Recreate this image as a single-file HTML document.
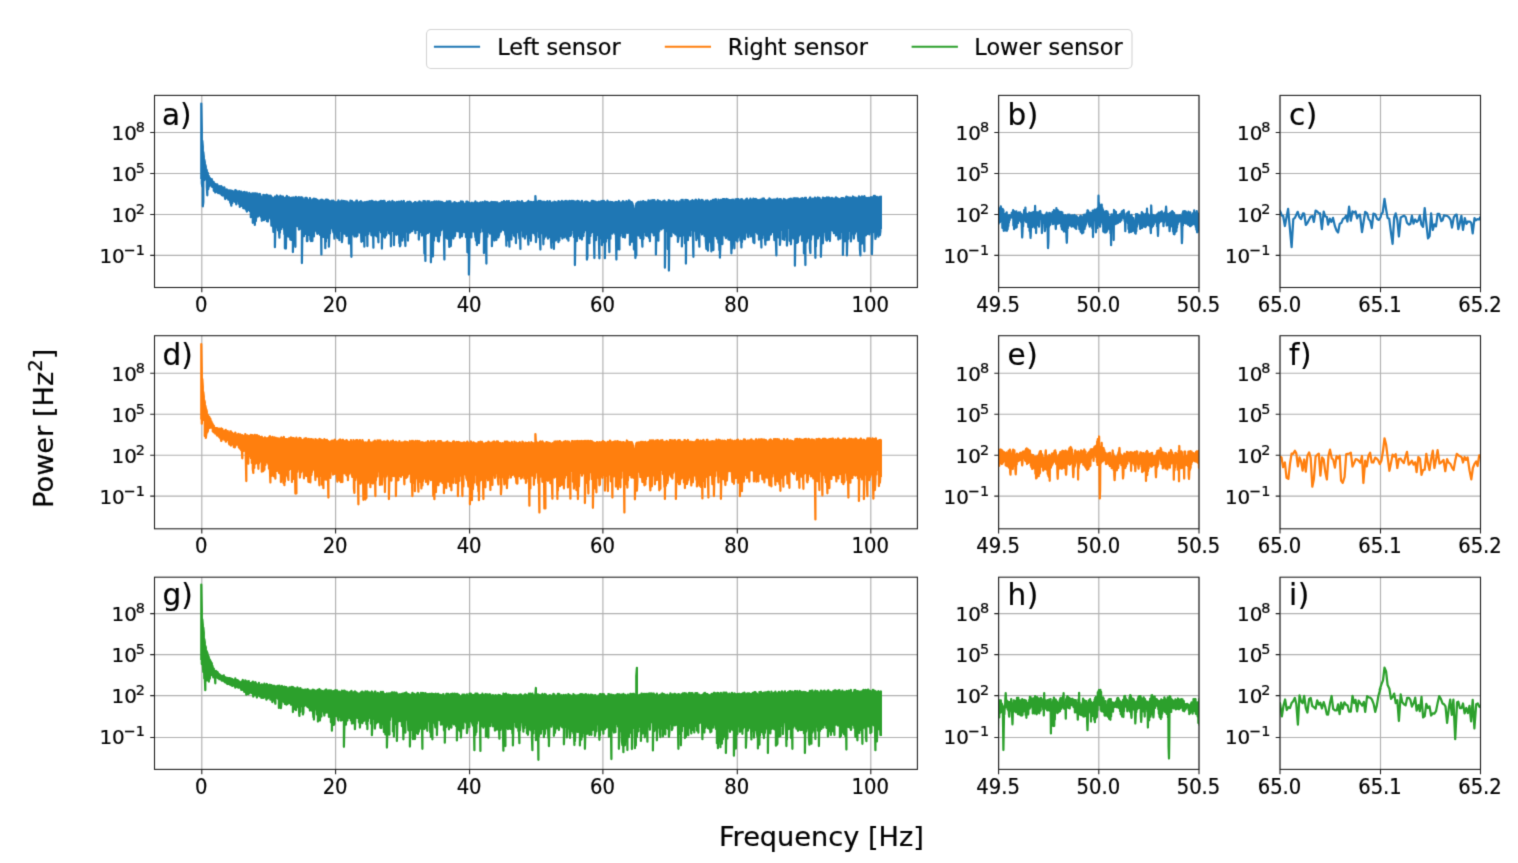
<!DOCTYPE html>
<html lang="en"><head><meta charset="utf-8"><title>Power spectra</title>
<style>html,body{margin:0;padding:0;background:#fff}svg{display:block}text{font-family:"DejaVu Sans", "Liberation Sans", sans-serif;fill:#000;stroke:#000;stroke-width:0.2px}</style></head><body>
<svg width="1518" height="863" viewBox="0 0 1518 863">
<defs><filter id="soft" x="0" y="0" width="100%" height="100%" filterUnits="userSpaceOnUse" color-interpolation-filters="sRGB"><feConvolveMatrix order="3" kernelMatrix="0.0192 0.1001 0.0192 0.1001 0.5228 0.1001 0.0192 0.1001 0.0192" edgeMode="duplicate" preserveAlpha="true"/></filter></defs>
<g filter="url(#soft)">
<rect x="-5" y="-5" width="1528" height="873" fill="#fff"/>
<g id="legend">
<rect x="426.5" y="29.5" width="705.5" height="39" rx="4.5" ry="4.5" fill="#fff" stroke="#d4d4d4" stroke-width="1.1"/>
<path d="M433.9,46.7H480.1" stroke="#1f77b4" stroke-width="1.9"/>
<text x="497.2" y="55" font-size="22.4">Left sensor</text>
<path d="M664.8,46.7H711.0" stroke="#ff7f0e" stroke-width="1.9"/>
<text x="727.7" y="55" font-size="22.4">Right sensor</text>
<path d="M911.6,46.7H957.9" stroke="#2ca02c" stroke-width="1.9"/>
<text x="974.3" y="55" font-size="22.4">Lower sensor</text>
</g>
<text transform="translate(821.4,845.7) scale(1,0.955)" text-anchor="middle" font-size="27.2">Frequency [Hz]</text>
<text transform="translate(53.1,428.3) rotate(-90) scale(1,0.99)" text-anchor="middle" font-size="27.2">Power [Hz<tspan font-size="19.6" dy="-11.4">2</tspan><tspan dy="11.4">]</tspan></text>
<g id="panel-a">
<clipPath id="c00"><rect x="154.5" y="95.4" width="762.9" height="192.1"/></clipPath>
<path d="M201.8,95.4V287.5M335.6,95.4V287.5M469.6,95.4V287.5M602.9,95.4V287.5M737.3,95.4V287.5M870.8,95.4V287.5M154.5,132.5H917.4M154.5,173.5H917.4M154.5,214.5H917.4M154.5,255.4H917.4" stroke="#b0b0b0" stroke-width="1.15" fill="none"/>
<g clip-path="url(#c00)" fill="none" stroke="#1f77b4" stroke-width="2.25" stroke-linejoin="round" stroke-linecap="butt">
<path d="M201.3,178.9V103.5L201.8,129.2V183L202.3,186.7V140.8L202.8,146.5V206.3L203.3,202.2V152.2L203.8,156.6V176.5L204.3,180.2V159.7L204.8,162.2V178.6L205.3,178.8V164.8L205.8,166.8V178.3L206.3,177.7V169.2L206.8,170.4V186.8L207.3,195.3V173.4L207.8,172.8V187.3L208.3,189.1V177.1L208.8,176.1V182.2L209.3,186.5V177.6L209.8,178V183.6L210.3,184.2V179.9L210.8,180.4V184.9L211.3,185.3V179.3L211.8,179.2V186L212.3,187V182.3L212.8,181.9V186.2L213.3,187.3V181.7L213.8,182.2V190.8L214.3,189.1V185.6L214.8,186.3V190.2L215.3,192.4V186.1L215.8,184V189.6L216.3,190.3V186.8L216.8,186.2V191.8L217.3,191V184.4L217.8,186.4V192.6L218.3,193V186.2L218.8,187.4V191.6L219.3,191.6V186.6L219.8,186.2V193.4L220.3,192.4V189.2L220.8,187V193L221.3,194.4V186.1L221.8,187.4V195.2L222.3,194.5V188.9L222.8,187.6V195.5L223.3,195.3V189.8L223.8,189.1V193.8L224.3,195.3V187.3L224.8,189.8V197L225.3,199V189.9L225.8,190.5V198.4L226.3,197.1V191.3L226.8,189.4V197.7L227.3,196.7V190.8L227.8,190.8V196.3L228.3,199.7V190.4L228.8,191.8V197.1L229.3,196.7V190.4L229.8,191.7V196.9L230.3,202.7V190.7L230.8,190.4V202.4L231.3,205.7V192.2L231.8,191.5V200.4L232.3,203.1V190.8L232.8,191.8V200.9L233.3,200.8V193L233.8,191.7V198.4L234.3,200.7V191.4L234.8,192V201.8L235.3,201.1V190.2L235.8,192V200.8L236.3,204.3V190.6L236.8,193.4V200.9L237.3,200.7V193.5L237.8,191.6V201L238.3,200.9V193L238.8,193.7V203.7L239.3,203.7V191L239.8,193.4V206.9L240.3,205.7V192.3L240.8,192.5V201.2L241.3,205.8V191.7L241.8,193V202.4L242.3,202.7V192.7L242.8,193.9V202.6L243.3,208.2V194.2L243.8,192.1V203.4L244.3,205.1V194L244.8,192V208.3L245.3,207.4V193.5L245.8,193.7V209.5L246.3,207.2V195.1L246.8,192.3V211.6L247.3,210.2V194.4L247.8,194.1V210.1L248.3,206.5V194.6L248.8,195.1V207.6L249.3,205.8V192.8L249.8,194.4V211L250.3,208.2V196.5L250.8,194.4V217.2L251.3,209.7V195.2L251.8,194.8V207.3L252.3,205.5V193.3L252.8,195.3V222.8L253.3,213.6V193.3L253.8,194.7V214.4L254.3,219.7V196.7L254.8,193.3V224.9L255.3,212.4V194.7L255.8,193.4V221.2L256.4,215.4V196.2L256.9,196.3V212L257.4,215.8V193.6L257.8,194.9V216.5L258.4,213.2V196.8L258.9,194.8V215.5L259.3,212.4V194.9L259.9,193.9V214.6L260.4,213.4V195.2L260.9,196.9V216.5L261.4,217.5V197.5L261.8,197.5V220.8L262.4,210.3V197.5L262.9,196.8V212.3L263.3,210.5V194.8L263.9,196.1V220.2L264.4,210.8V196.2L264.9,195.1V210.9L265.4,218.9V197.4L265.9,197V219.2L266.4,215.9V196.3L266.9,194.7V221.2L267.4,217.3V196.5L267.9,198.3V221.5L268.4,211.4V195.7L268.9,197.5V217.4L269.4,211.4V195.8L269.9,197.1V216.4L270.4,218.6V195.5L270.9,196.2V212L271.4,225.7V196.8L271.9,198V217.9L272.4,217.8V198.3L272.9,198.1V221.1L273.4,231.9V198.5L273.9,198.2V221L274.4,221.7V197.9L274.9,196.6V247.2L275.4,226.1V197.1L275.9,198.9V223.9L276.4,227.3V198.5L276.9,195.5V220.2L277.4,213.2V197.2L277.9,198.2V230.3L278.4,218.9V198.1L278.9,196.7V229.3L279.4,237.7V198.3L279.9,197.3V232.9L280.4,216.8V195.7L280.9,196.3V218.2L281.4,229V198.3L281.9,197.7V217.1L282.4,219.8V197.3L282.9,196.5V226.8L283.4,226.5V198.6L283.9,199.3V224.1L284.4,234.3V198.9L284.9,197.8V248.3L285.4,231.4V197.5L285.9,197.6V248.5L286.4,224.6V198.3L286.9,196V226.7L287.4,231.1V197.7L287.9,198.2V223.6L288.4,236.6V197.8L288.9,197.2V233.3L289.4,232.2V197.6L289.9,198.7V234.8L290.4,239.7V199.4L290.9,198.5V222.3L291.4,239.8V197.9L291.9,199V225.6L292.4,238V197.6L292.9,199.6V252L293.4,227.6V199.1L293.9,197.5V221.6L294.4,222.7V199.4L294.9,198.3V231.5L295.4,246.8V198.6L295.9,196.9V223.9L296.4,223.9V199.4L296.9,200.1V222.7L297.4,226.1V198.2L297.9,198.1V223.9L298.4,222.1V197.3L298.9,197.2V229.6L299.4,228V200.7L299.9,199.8V228.8L300.4,225.9V198.9L300.9,197.4V226.1L301.4,228.7V197.4L301.9,199.2V263L302.4,229V197.6L302.9,199.1V223.9L303.4,233.3V199.8L303.9,199.6V236.2L304.4,220V199.3L304.9,199.5V225.4L305.4,233.9V197.8L305.9,197.9V227.9L306.4,220.8V200.1L306.9,198V241.2L307.4,241V200.7L307.9,200.9V227.5L308.4,235V200.9L308.9,200V225.2L309.3,228.3V201.6L309.9,198.2V226.8L310.4,239.6V199L310.9,201.8V241.1L311.4,227.6V201.1L311.9,200.7V231.1L312.4,241V201.3L312.9,199.3V231.9L313.4,226.9V200.8L313.9,198.6V236.4L314.3,223V200.3L314.9,199.1V221.4L315.4,221V199.4L315.8,198.9V226.1L316.4,231.4V200.8L316.9,200.6V226L317.3,233.8V199.8L317.9,201.4V233.3L318.4,228.2V200.9L318.9,200.6V228.4L319.4,223.6V202.5L319.9,200.7V234.8L320.4,225.8V201.2L320.9,200V222L321.4,254.4V201.6L321.9,199.6V230.4L322.3,227.6V201L322.9,202V224.5L323.4,237V200.3L323.8,201V224.3L324.4,232.5V202.6L324.9,201.6V223.6L325.3,248.2V200.9L325.9,199.6V241.7L326.4,220.4V203.7L326.9,199.7V228.5L327.4,231.7V201.9L327.9,199.8V237.7L328.4,228V201.4L328.9,200.6V246.7L329.4,233.8V201.6L329.9,201.4V233.6L330.4,228.7V202.4L330.9,201.6V228.1L331.4,224.8V201.1L331.9,200.6V222.9L332.4,228V201.2L332.9,201.4V229.3L333.4,232.3V200.7L333.9,202.5V221.6L334.4,238.6V201.7L334.9,202.3V223.9L335.4,234.1V202.5L335.9,202.4V229.8L336.4,227.8V202.5L336.9,202.7V235.9L337.4,238.1V201.9L337.9,202.4V230.5L338.4,226V200.3L338.9,201.7V227.6L339.4,240.2V203L339.9,202.4V223.8L340.4,230.9V202.7L340.9,201.3V222.5L341.4,229.7V200.8L341.9,200.6V242.2L342.4,236.9V201.8L342.9,202.9V224.8L343.4,227.4V202.9L343.9,201V223.9L344.4,233.7V202.2L344.9,201.3V230.1L345.4,228.2V202.1L345.9,201.6V229.1L346.4,236V202.3L346.9,201.5V231.8L347.4,235.6V202.2L347.9,202.4V225L348.4,220.3V202.7L348.9,203.6V243.6L349.4,227.3V202.7L349.9,203.5V233.7L350.4,228.6V200.5L350.9,203.2V235.3L351.4,256.8V201.3L351.9,200.9V232.9L352.4,234.5V201.9L352.9,202.2V223.5L353.4,222.6V203.3L353.9,202.5V228.8L354.4,236.5V202.8L354.9,203.1V222.7L355.4,226.7V202.2L355.9,202.9V226.7L356.4,236.6V200.6L356.9,200.7V225.3L357.4,235.8V203.1L357.9,203.5V228.5L358.4,227.3V203.2L358.9,202.5V226.8L359.4,232.5V201.8L359.9,203.2V226.5L360.4,223.8V203.1L360.9,201.2V229.2L361.4,241.8V202.7L361.9,202.2V239.7L362.4,240.9V203.2L362.9,203.6V237.9L363.4,239.8V202.5L363.9,202.6V226.2L364.4,246.6V203.4L364.9,202.2V235.8L365.4,224.3V202.4L365.9,202.1V221.3L366.4,228.9V203.5L366.9,201.8V221.1L367.4,246.1V203.3L367.9,202.5V222.4L368.4,234.1V201.6L368.9,204.1V225.9L369.4,225.7V203L369.9,201.2V224.7L370.4,231.3V201.3L370.9,202.5V223L371.4,235.3V201.2L371.9,200.7V222.9L372.4,228.7V201.5L372.9,201.3V220.4L373.4,247.7V203.7L373.9,202.2V227.1L374.4,229.6V202L374.9,202.3V230.7L375.4,235.3V201.6L375.9,204.1V233.8L376.4,235.6V201.8L376.9,202V236.4L377.4,225.9V203.3L377.9,203.3V230.6L378.4,242.3V202.3L378.9,203.1V226.2L379.4,230.1V201.7L379.9,202.8V226.9L380.4,230.3V201.8L380.9,200.8V232.3L381.4,220.3V203.2L381.9,203.6V248.5L382.4,222.9V201L382.9,202.6V223L383.4,232.5V200.8L383.9,202.4V236.5L384.4,228.7V200.8L384.9,202.6V237.7L385.4,225.8V202.7L385.9,203.7V235.4L386.4,234.5V203.1L386.9,204.2V223.4L387.4,223.8V203.6L387.9,202V230L388.4,224.7V204.2L388.9,203.1V233.2L389.4,218.3V201.4L389.9,202.2V231.7L390.4,234.5V202.2L390.9,203.6V246.3L391.4,220V202.9L391.9,202.6V231.2L392.4,226.9V200.9L392.9,203.6V228.4L393.4,227.1V203.4L393.9,203.4V245.1L394.4,223.3V202L394.9,202.9V223.1L395.4,229.8V204.1L395.9,202.8V221.8L396.4,234.8V203.6L396.9,201.9V229L397.4,232.4V203.4L397.9,204.3V228.6L398.4,234.3V202.6L398.9,201.6V225.5L399.4,243.3V203.2L399.9,202.1V246.3L400.4,245.3V202.9L400.9,202.8V238.7L401.4,232.4V201L401.9,201.9V222.1L402.4,240.6V204.3L402.9,202.3V228.3L403.4,230.1V203L403.9,201V233.2L404.4,237V203.6L404.9,203.5V236.4L405.4,246V204.1L405.9,203.1V227.3L406.4,228.2V204L406.9,202.6V231.5L407.4,227.2V201.9L407.9,202.4V240.6L408.4,222.7V202.1L408.9,203.3V225L409.4,228.1V201.7L409.9,203.1V232.7L410.4,232V201.8L410.9,202.6V230.9L411.4,222.9V203.9L411.9,204.1V224.6L412.4,231V204.5L412.9,204.2V229.7L413.4,224.4V203.1L413.9,204V222.4L414.4,228.4V204.5L414.9,202.2V226.7L415.4,233.2V203.3L415.8,202.2V223.4L416.4,225.2V203.1L416.9,203.1V229.8L417.3,224.6V203.1L417.9,203.1V224.9L418.4,225.7V202L418.8,203.3V239.6L419.4,230V201.3L419.9,204.4V223.8L420.4,226.3V202.2L420.9,204V231.9L421.4,221V202.7L421.9,204.7V235.5L422.4,233.6V203L422.9,205V222.2L423.4,225.7V201.2L423.9,201.3V223.8L424.4,253.6V202.1L424.9,201.3V232.7L425.4,260.9V204L425.9,204V234.4L426.4,226.9V203.9L426.9,202.8V227.1L427.3,231.2V201.4L427.9,201.2V233L428.4,229.3V202.5L428.8,202.4V230.1L429.4,229.8V201.4L429.9,203.4V228.8L430.3,232.4V203.7L430.9,203.9V262.3L431.4,235.5V204.1L431.8,202.1V228.2L432.4,221.9V204L432.9,203.7V256.4L433.3,227.1V202L433.9,203.6V240.7L434.4,229.9V201.3L434.8,203.7V228.6L435.4,235.7V203.1L435.9,203.6V223.5L436.4,228.7V201.4L436.9,203.5V236L437.4,226.4V203.3L437.9,203.1V240.9L438.4,229.7V201.3L438.9,204.6V241.5L439.4,229.3V202.5L439.9,201.6V235.5L440.4,228.3V204.7L440.9,203.1V227.2L441.4,230.2V203.6L441.8,201.9V228.1L442.4,225.6V203.1L442.9,202.7V225.7L443.3,228.7V203.3L443.9,202.9V231.4L444.4,259.5V203.7L444.8,204.9V224.4L445.4,227.4V203L445.9,203.7V237.5L446.3,229.5V203.2L446.9,201.4V223.6L447.4,238.7V203.4L447.8,203.9V225L448.4,225.5V203.6L448.9,201.4V230.6L449.3,246.9V201.4L449.9,202V238.9L450.4,223.2V201.4L450.8,203.9V246L451.4,232.8V204.4L451.9,203.9V228.7L452.4,237.1V203.7L452.9,204.1V220.8L453.4,238.5V203L453.9,203.5V230L454.4,228.7V202.2L454.9,204.1V236.1L455.4,231.1V202.7L455.9,203.9V230.7L456.4,226.4V203.1L456.9,203.7V228.5L457.4,231.1V204.6L457.9,204V228L458.4,231.4V202.9L458.9,203.3V230.2L459.4,228.1V203.3L459.9,204.1V237.6L460.4,226.1V203.1L460.9,201.4V229L461.4,220.8V202.2L461.9,203.1V236.3L462.4,231.2V201.5L462.9,201.7V223.9L463.4,229V203.1L463.9,204.8V227.1L464.4,232.1V204.4L464.9,204.6V227.7L465.4,222.5V203.5L465.9,203.7V237L466.4,225.7V201.5L466.9,204.2V221.5L467.4,252.3V201.5L467.9,202.5V236.5L468.4,240.3V202.3L468.9,203V274.6L469.4,242.4V202.9L469.9,203.4V218L470.4,232.5V205L470.9,203.7V223.7L471.4,237.4V203.4L471.9,202.7V231.6L472.4,225.1V203.4L472.9,203.5V229.2L473.4,231.3V204.3L473.9,205V230.5L474.4,229.5V202.5L474.9,203.8V231.7L475.4,237.3V201.4L475.9,204V240.6L476.4,238.9V203.7L476.9,203.2V245.1L477.4,229.8V202.5L477.9,203.4V225.1L478.4,233.3V204.3L478.9,203.7V243.1L479.4,232.1V203.3L479.9,202.8V229.2L480.4,232.1V202.4L480.9,204.2V225.9L481.4,222.9V204.7L481.9,203.2V224.8L482.4,227.7V202.2L482.9,204.9V231.4L483.4,228V202.7L483.9,202.7V253.1L484.4,220.9V203.3L484.9,201.4V238.2L485.4,224V202.8L485.9,205V226L486.4,263.6V203.2L486.9,201.8V235.4L487.4,236.8V202L487.9,202.8V232.2L488.4,225.3V202.7L488.9,203V231.8L489.4,223.2V203.7L489.9,203V233.6L490.4,229.1V202.7L490.9,203.5V221.2L491.4,228.8V201.8L491.9,203.9V246.2L492.4,231.6V202.4L492.9,203.6V234L493.4,230.5V202.2L493.9,203.3V235.2L494.4,240.5V202.1L494.9,203.5V228.5L495.4,228.3V203.8L495.9,202.2V225.1L496.4,240V203.5L496.9,202.4V226.4L497.4,225.9V202.3L497.9,203.8V228.9L498.4,237.4V203.8L498.9,203.8V235.8L499.4,232.5V204L499.9,203.3V230.5L500.4,231.6V204.5L500.9,204.1V231.7L501.4,225.7V202.5L501.9,202V225.1L502.4,226.2V204.2L502.9,203.7V225L503.4,230.1V203.7L503.9,201.1V222.4L504.4,229.6V202.4L504.9,202.8V229.6L505.4,234.6V203.5L505.9,201.8V228.5L506.4,245.7V203.1L506.9,201.1V240.1L507.4,240.3V202.4L507.9,203V228.9L508.4,238.5V203.9L508.9,201.1V234.2L509.4,246.7V203.8L509.9,203.7V236.7L510.4,222.5V203.1L510.9,203.2V231.2L511.4,239.5V203.8L511.9,202.2V231L512.4,223.4V203.7L512.9,202.5V225.4L513.4,233.3V202.1L513.9,203.6V235.5L514.4,227.3V202.6L514.9,202.1V236.6L515.4,236.3V202.5L515.9,202.6V243.1L516.4,225.5V203.4L516.9,202.2V232.3L517.4,230.5V201L517.9,203V227.8L518.4,226.8V201.9L518.9,204.1V232.4L519.4,238.4V201.6L519.9,203.6V226.3L520.4,248.9V203.1L520.9,203.3V223.4L521.4,230.3V204L521.9,201.1V225.4L522.4,229.9V203.1L522.9,202.7V236.5L523.4,235.4V202.8L523.9,203.7V231.1L524.4,222.8V203.5L524.9,203.9V238.5L525.4,231.4V202.8L525.9,203.4V234.4L526.4,227.4V203.1L526.9,203.8V226.8L527.4,232.9V201.8L527.9,203.8V237.9L528.4,244.6V200.9L528.9,203.6V238.1L529.4,236.1V202.5L529.9,204.1V230.1L530.4,225.5V201.8L530.9,203.5V240.8L531.4,223.1V202.6L531.9,202V228.9L532.4,227.9V203.6L532.9,202.6V221.8L533.4,233.2V203.4L533.9,201.9V231.2L534.4,229V202L534.9,203.5V231.6L535.4,235.5V196L535.9,204.2V242.1L536.4,235.9V201.3L536.9,202.5V227.6L537.4,229.6V202.9L537.9,201.9V227L538.4,231.5V202L538.9,200.8V237.2L539.4,229.8V203.2L539.9,204.5V235.4L540.4,249.5V200.8L540.9,201.3V224.9L541.4,233.1V202L541.9,202.6V233L542.4,228V202.1L542.9,201.8V223.6L543.4,244.3V203L543.9,201.8V239.1L544.4,235V201.9L544.9,202.4V236.8L545.4,231.9V202.9L545.9,202.1V226.6L546.4,226V204.6L546.9,201.8V230.3L547.4,237V201L547.9,203.3V238.6L548.4,228V203.7L548.9,203.4V237.1L549.4,231.1V203.2L549.9,201.2V227.9L550.4,237.3V202.6L550.9,203.2V239L551.4,247.8V203.6L551.9,203.2V240.1L552.4,226.1V202.4L552.9,203.1V242.1L553.4,237.5V202.8L553.9,202.8V248.9L554.4,229V201.5L554.9,202.9V237.2L555.4,233.3V203.1L555.9,202.2V240.4L556.4,233.9V203.4L556.9,202.8V233.1L557.4,232.2V203.1L557.9,202.3V233.1L558.4,242.2V201.2L558.9,202.8V227.5L559.4,240.5V201.7L559.9,202.8V233.1L560.4,236.2V202.2L560.9,203.6V235.5L561.4,229.1V202.8L561.9,200.9V231.5L562.4,238.5V202.4L562.9,201.8V232.3L563.4,234.7V202.7L563.9,202.7V228.6L564.4,237.4V201.4L564.9,203.9V226.2L565.4,231.4V202.5L565.9,200.8V231.8L566.4,236.6V202.6L566.9,203.4V238.6L567.4,232.2V201.4L567.9,203.3V221.9L568.4,240.7V202.1L568.9,202.6V235.9L569.4,227V200.8L569.9,202.3V229.2L570.4,236V201.5L570.9,204.4V235.2L571.4,233.1V200.8L571.9,203.8V230.2L572.4,228.4V203.1L572.9,200.8V226L573.4,229V204.4L573.9,201.6V237.1L574.4,224.3V201.3L574.9,202.8V265L575.4,235.4V203.3L575.9,201.7V235.4L576.4,225.5V202.7L576.9,203.6V241L577.4,229.7V200.8L577.9,201V236L578.4,226.5V202.7L578.9,201.3V234.2L579.4,228.1V202.9L579.9,202.1V238.4L580.4,232.1V202.9L580.9,202.7V227L581.4,233.6V203.5L581.9,200.8V239.5L582.4,229.5V203.2L582.9,203.7V227.8L583.4,236V203.6L583.9,204.3V232.6L584.4,225V202L584.9,202.5V225.7L585.4,228.6V201.7L585.9,202.7V230.3L586.4,226.7V201.7L586.9,202.1V259.5L587.4,257.1V201.8L587.9,202.9V233.5L588.4,230.8V202.3L588.9,203.5V228.1L589.4,243.2V203.1L589.9,203.5V233.5L590.4,236V202.9L590.9,203.3V233.1L591.4,231.8V202.9L591.9,200.8V229.3L592.4,231.8V203.1L592.9,200.8V229.9L593.4,230.5V202.3L593.9,203V233L594.4,258V201.3L594.9,202.3V238.3L595.4,235.1V203.3L595.9,201.7V240.1L596.4,230.2V202.8L596.9,203V230L597.4,231.8V203.1L597.9,202.1V235.1L598.4,229.4V203.2L598.9,201.6V238.5L599.4,258.3V203.2L599.9,202.6V228.1L600.4,232.7V202.7L600.9,201.4V228.7L601.4,238.7V201.1L601.9,203.5V245.1L602.4,233.9V202.4L602.9,201V228.7L603.4,242.2V202.8L603.9,200.8V238.3L604.4,232.5V203.2L604.9,202.4V258.2L605.4,227.9V202.1L605.9,203.3V241.8L606.4,229.8V204.3L606.9,202.8V233.7L607.4,229.1V200.7L607.9,203V238.1L608.4,231.3V201.7L608.9,203.4V239.1L609.4,252.1V203L609.9,203.5V232L610.4,238.7V201.9L610.9,202V229.6L611.4,231.2V202L611.9,203.2V227.5L612.4,233.6V202L612.9,203.2V221.2L613.4,231.5V202.7L613.9,202.9V232.1L614.4,227.9V202.9L614.9,203.8V230.6L615.4,234.2V202.2L615.9,201.9V232L616.4,259.5V202.2L616.9,202.1V233.6L617.4,249.4V203.3L617.9,203.4V232.4L618.4,236.1V202.5L618.9,201V231.3L619.4,249.5V203.3L619.9,202.6V230.9L620.4,235.7V202.7L620.9,202.5V230.6L621.4,228.1V203.3L621.9,202.9V232.8L622.4,229.2V203L622.9,201.2V237L623.4,219.1V201.4L623.9,202.6V236.9L624.4,223.9V202.1L624.9,203.3V237.6L625.4,231.8V202.4L625.9,202.9V226.7L626.4,228.4V201.1L626.9,201.9V228.6L627.4,232.8V202L627.9,203.4V227.8L628.4,224.5V202.5L628.9,200.5V232.8L629.4,231.3V200.5L629.9,202V244.8L630.3,233.7V203.3L630.9,202V232.3L631.4,225.1V202.2L631.9,202.4V241.8L632.4,228.2V203.3L632.9,205.4V231.1L633.3,230.1V208.1L633.9,210.2V249.4L634.4,240.1V210.4L634.9,210.2V235.9L635.4,258V208.1L635.8,205.4V229.1L636.3,255.4V203.6L636.9,203.1V231L637.4,231.1V202.5L637.9,203.3V230L638.4,235.5V201.9L638.8,203.6V234.1L639.4,230.6V202.8L639.9,203.5V226.9L640.4,238.1V201.7L640.9,201.8V234.9L641.4,228V202.6L641.8,203V234.6L642.4,246.7V201.5L642.9,202.6V239.7L643.4,238.4V201.2L643.9,202.3V231.9L644.4,229.7V202.2L644.8,203.7V225.5L645.4,224.9V201.8L645.9,202.6V235.4L646.4,227.8V202.9L646.9,202.4V235.9L647.4,234.1V202.5L647.8,202.3V235.7L648.4,233.2V200.3L648.9,202.5V237.7L649.4,235.1V201.3L649.9,202V241.2L650.4,223V200.6L650.8,202.5V231.7L651.4,224.4V202.8L651.9,200.4V227.9L652.4,232.5V203.5L652.9,200.2V227.8L653.3,229.8V202L653.8,202.4V235.4L654.4,231.4V200.2L654.9,203.4V228.5L655.4,235.4V202.1L655.9,203.5V254.4L656.3,236.3V201.9L656.9,202.9V227.1L657.4,224.2V201.7L657.9,200.2V229.8L658.4,240.7V200.6L658.9,202.2V227.7L659.3,231.3V201.4L659.9,201.2V227.8L660.4,225.9V202.1L660.9,202V223.6L661.4,229.4V202.9L661.9,202.4V226L662.3,228V203L662.9,201.3V228.2L663.4,225.9V202.1L663.9,202.2V224.4L664.4,225V200.5L664.9,201.9V267.7L665.3,243.4V202.2L665.9,202.6V226.5L666.4,231.2V203.2L666.9,202.2V231.1L667.4,226.6V203.5L667.8,202.5V249L668.3,225.5V202L668.9,200.1V270.5L669.4,228.8V203L669.9,201.5V230.4L670.4,229.6V202L670.8,201V234L671.4,236.1V202.8L671.9,203.1V231.6L672.4,225.3V202.2L672.9,200.9V230.7L673.4,229.2V202.7L673.8,201V232.8L674.4,222.5V202.4L674.9,202.6V228L675.4,234.4V203.4L675.9,202.1V229.4L676.4,231.1V202.1L676.8,201.4V225.4L677.4,236.1V203L677.9,202.7V241.9L678.4,238.4V203.4L678.9,202.8V233.7L679.4,226V201.4L679.8,202V236.2L680.4,229.8V202.2L680.9,201.6V229.8L681.4,233.4V199.9L681.9,200.5V246.4L682.3,228V201.1L682.8,199.9V235.6L683.4,233.5V203.1L683.9,202.9V233.9L684.4,229.2V201.8L684.9,202.1V243.3L685.3,231V199.8L685.9,201.7V263.6L686.4,221.8V201.6L686.9,200V230.2L687.4,233.8V201.8L687.9,200.2V240.1L688.3,228.7V202.2L688.9,202.2V224.9L689.4,235.1V202L689.9,201.5V227.6L690.4,235.8V202.3L690.9,201.1V223.2L691.3,228.6V202.5L691.9,202.6V229.8L692.4,224.2V200.1L692.9,202.2V236.3L693.4,256.8V201.8L693.9,201.3V229L694.3,227.5V201.4L694.9,202.7V230.6L695.4,226.4V200L695.9,199.6V228.7L696.4,240.1V200.4L696.9,202V230L697.3,236V201.4L697.9,201.8V224.6L698.4,238.2V201.3L698.9,199.5V235.9L699.4,246.7V201.9L699.8,200.9V232.7L700.3,230.9V201.8L700.9,200.5V230.6L701.4,224.9V201.8L701.9,199.8V234.5L702.4,232.7V200.6L702.8,200.5V226.1L703.4,230.6V201.4L703.9,202.1V229.4L704.4,236V202.7L704.9,201.8V232L705.4,229.9V202.7L705.8,200.7V240.7L706.4,248.9V200.8L706.9,201.5V241.6L707.4,232.1V200.4L707.9,201.2V250.7L708.4,229.8V202.6L708.8,202.2V242.5L709.4,236.7V202L709.9,201.6V233L710.4,241.5V202.5L710.9,200.9V236.2L711.4,251.4V201.2L711.8,200.9V221.6L712.4,230V201.4L712.9,199.9V233.9L713.4,250.1V201.3L713.9,202.8V233.7L714.4,232.6V199.7L714.9,200.7V224.2L715.4,236V200L715.9,199.2V230L716.4,229.2V202.4L716.9,201.8V238.6L717.4,231.7V202.3L717.9,201.3V227.3L718.4,242.6V199.7L718.9,202.2V230.1L719.4,250.2V201.1L719.9,202V257.6L720.4,245.4V200.2L720.9,199.8V232.1L721.4,224.3V202.4L721.9,201.1V233.4L722.4,244.1V201.7L722.9,199.1V225.9L723.4,231.5V199.1L723.9,200.7V235.1L724.4,223V199.1L724.9,201.4V223.9L725.4,236.5V199.3L725.9,201.1V238.1L726.4,230.4V201.6L726.9,199V226.3L727.4,234.7V200.4L727.9,202.1V230.4L728.4,239.5V199.5L728.9,200.3V238.3L729.4,227.7V200.6L729.9,200.2V239.9L730.4,236.3V201.5L730.9,200.6V228.8L731.4,253.3V199.8L731.9,202.1V249L732.4,235.8V201.8L732.9,199.6V234.7L733.4,234.2V200.5L733.9,200.7V226.9L734.4,248.3V201.4L734.9,201.3V234.3L735.4,229.6V199.4L735.9,201V240.2L736.4,225.9V202L736.9,199.1V229.5L737.4,241.5V201.5L737.9,199.6V237.9L738.4,227.9V199.2L738.9,200.8V233.4L739.4,232V200.5L739.9,200.7V225.3L740.4,240.5V200.4L740.9,199.4V222.9L741.4,247.4V201.2L741.9,199.2V242.4L742.4,237.5V200.5L742.9,201.7V226.9L743.4,232.5V201.4L743.9,200.4V229.4L744.4,239V201.3L744.9,201.6V239.3L745.4,231.4V201.5L745.9,199.4V228L746.4,232.4V200.4L746.9,198.7V225.7L747.4,229.3V201L747.9,200.4V236.8L748.4,237.1V200.3L748.9,200.3V234L749.4,227.8V201.8L749.9,199.8V224L750.4,225.9V198.7L750.9,200.5V236.4L751.4,233.3V201.3L751.9,199.8V230L752.4,231V202.3L752.9,201V233.7L753.4,242.3V198.7L753.9,200.3V228.5L754.4,243.1V199.2L754.9,200.2V225.8L755.4,225.8V199.4L755.9,199V228.5L756.4,232V200.9L756.9,201.5V228.7L757.4,233.6V199.8L757.9,200.6V227.1L758.4,227.3V201.4L758.9,200.2V239.7L759.4,235.1V201.8L759.9,201.2V234.6L760.4,234.2V199.5L760.9,202.1V230.7L761.4,247.5V200.9L761.9,201.9V229.3L762.4,238.1V198.5L762.9,200.2V233.2L763.4,232.6V200.9L763.9,198.5V234.5L764.4,233.8V200.4L764.9,200.5V238.8L765.4,244.7V200.1L765.9,200.9V231L766.4,230.3V200.8L766.9,200.7V240.1L767.4,237.2V201L767.9,200.1V235.8L768.4,226.5V199.7L768.9,201.5V239.8L769.4,230.9V198.4L769.9,199.5V230.7L770.4,234.6V199.3L770.9,199.5V234.4L771.4,223.2V201.4L771.9,200.3V230.9L772.4,229.4V200.4L772.9,199.8V231.9L773.4,229.5V200.4L773.9,199.6V230.1L774.4,240.2V199.7L774.9,199.6V234.8L775.4,232.4V199.9L775.9,201.1V240.9L776.4,255.4V199.4L776.9,199.3V237.3L777.4,226.2V198.5L777.9,200.8V234.6L778.4,237.4V201L778.9,200.4V233.3L779.4,228.9V200.6L779.9,199.1V244.9L780.4,238.8V199.8L780.9,199.3V228.8L781.4,227.8V200.3L781.9,201.2V229.9L782.4,225.5V201.1L782.9,200.4V239.2L783.4,228.6V200.9L783.9,199V224.6L784.4,239.9V199.8L784.9,199.5V236.9L785.4,231V200.1L785.9,201.2V234.6L786.4,228.8V200.7L786.9,200.2V245.6L787.4,239.5V200.8L787.9,201.5V228.4L788.4,222.6V199.3L788.9,199.3V224.2L789.4,225V200.4L789.9,198.8V240.9L790.4,240.1V200.2L790.9,198.6V244.3L791.4,231.1V199.6L791.9,199.8V225.4L792.4,231.3V200.7L792.9,199.9V227.3L793.4,238.5V198.3L793.9,200.4V225.8L794.4,238.6V198.5L794.9,198.2V265.7L795.4,233.1V200.4L795.9,199.4V230.9L796.4,222.6V198.3L796.9,201.1V242.9L797.4,236.1V198.4L797.9,200.7V242.1L798.4,233.7V198.6L798.9,199.4V235.8L799.4,231.6V200.3L799.9,200.8V234.5L800.4,224.3V199.5L800.9,198.6V227.2L801.4,225.9V198.7L801.9,199.5V240.8L802.4,230.6V198L802.9,199.6V237.7L803.4,225.7V200.6L803.9,200V253.3L804.4,242.1V200.2L804.9,197.9V233.9L805.4,265V200.1L805.9,197.9V236.1L806.4,242.6V199.7L806.9,200.6V241.4L807.4,235.1V200.9L807.9,200V223.5L808.4,237.9V200.7L808.9,199.3V227.9L809.4,236.5V199.9L809.9,197.7V248.2L810.4,253V197.7L810.9,200.5V239.8L811.4,232.4V199.9L811.9,199.7V227.8L812.4,228.2V199.4L812.9,198.6V234.4L813.4,232.1V199.6L813.9,199.7V226.8L814.4,226.3V200.1L814.9,197.7V235.1L815.4,257.8V201L815.9,198.4V246.8L816.4,228.1V200.2L816.9,198.9V236.2L817.4,232.1V199.8L817.9,197.5V238.4L818.4,226.2V200.4L818.9,200.2V231.7L819.4,231.3V197.8L819.9,199.1V235.8L820.4,231.6V199.8L820.9,201.4V256.8L821.4,236.1V200L821.9,200.2V234.5L822.4,235.9V200L822.9,197.6V243.3L823.4,231.4V197.8L823.9,198.6V227.2L824.4,223.8V199.3L824.9,198.1V231.8L825.4,230.3V199.2L825.9,199.5V235.7L826.4,240V199.7L826.9,197.3V240.7L827.4,228.2V199.4L827.9,199.1V228.1L828.4,238.8V199.7L828.9,197.5V233.3L829.4,230.3V199.4L829.9,199.6V241L830.4,227.3V198.4L830.9,199.8V229.9L831.4,230V200L831.9,197.8V228.6L832.4,221.4V198.2L832.9,198.7V230.8L833.4,225.8V199.6L833.9,198.6V233.2L834.4,229.4V198.5L834.9,199.3V224.3L835.4,229.2V200.1L835.9,197.4V235.5L836.4,229.9V199L836.9,198V234.4L837.4,235V199.5L837.9,198.6V230L838.4,239.5V199L838.9,199.1V232L839.4,223.7V199.8L839.9,199.4V233.8L840.4,238.5V199.9L840.9,199.2V232.3L841.4,226.3V198L841.9,198.4V226.2L842.4,226.5V198.2L842.9,200.4V254.9L843.4,236.3V198.2L843.9,198.7V217.3L844.4,241.3V199.3L844.9,199.5V231.9L845.4,227.2V199.4L845.9,197.4V241.2L846.4,229.2V196.7L846.9,196.8V255.4L847.4,238.3V198.9L847.9,197.6V225.5L848.4,238.8V198.4L848.9,197.4V229.6L849.4,228V198.6L849.9,198.3V230.8L850.4,229.8V197.5L850.9,199.5V241.4L851.4,235.3V198.4L851.9,198.8V230.4L852.4,233.6V198.1L852.9,196.5V229.2L853.4,226.1V198.7L853.9,198.7V238.5L854.4,224.9V197.4L854.9,198V233.8L855.4,223.8V198.6L855.9,197.8V229.9L856.4,227.2V198.6L856.9,199.2V231.5L857.4,231.3V198.4L857.9,198.7V234.9L858.4,240.9V199L858.9,196.4V233.8L859.4,237.7V197.7L859.9,198V248.9L860.4,255.4V197.4L860.9,198.1V238.8L861.4,225.6V197.6L861.9,196.3V243.6L862.4,238.7V196.8L862.9,199V228.6L863.4,224.5V198.7L863.9,199.3V236.7L864.4,251.3V196.2L864.9,198.7V223.1L865.4,228.9V197.6L865.9,199.2V235.3L866.4,232.2V198.8L866.9,198V230.2L867.4,234V199.1L867.9,198.3V225.6L868.4,228.3V197.9L868.9,198.4V223.4L869.4,234.4V197.8L869.9,197.9V224L870.4,232.1V198.2L870.9,197.3V229.6L871.4,228.1V197.4L871.9,197.3V254.1L872.4,233.6V197.7L872.9,198.2V232.6L873.4,226.7V197.5L873.9,195.9V228.4L874.4,223.9V197.5L874.9,195.9V222.1L875.4,238.9V197.9L875.9,197V237.3L876.4,228.4V199.1L876.9,196.9V227.9L877.4,230.2V197.6L877.9,199.5V225.5L878.4,236.7V198.2L878.9,197.5V234.7L879.4,231.9V196.8L879.9,198.9V235.2L880.4,231.1V197.5L880.9,196.6V228.9"/>
</g>
<path d="M201.8,287.5v4.8M335.6,287.5v4.8M469.6,287.5v4.8M602.9,287.5v4.8M737.3,287.5v4.8M870.8,287.5v4.8M154.5,132.5h-4.3M154.5,173.5h-4.3M154.5,214.5h-4.3M154.5,255.4h-4.3" stroke="#1c1c1c" stroke-width="1.07" fill="none"/>
<rect x="154.5" y="95.4" width="762.9" height="192.1" fill="none" stroke="#1c1c1c" stroke-width="1.07"/>
<text transform="translate(201.35,311.94) scale(1,1.08)" text-anchor="middle" font-size="19.6">0</text>
<text transform="translate(335.1,311.94) scale(1,1.08)" text-anchor="middle" font-size="19.6">20</text>
<text transform="translate(469.1,311.94) scale(1,1.08)" text-anchor="middle" font-size="19.6">40</text>
<text transform="translate(602.4,311.94) scale(1,1.08)" text-anchor="middle" font-size="19.6">60</text>
<text transform="translate(736.8,311.94) scale(1,1.08)" text-anchor="middle" font-size="19.6">80</text>
<text transform="translate(870.3,311.94) scale(1,1.08)" text-anchor="middle" font-size="19.6">100</text>
<text transform="translate(145,139.86) scale(1,0.995)" text-anchor="end" font-size="19.9">10<tspan font-size="14.4" dx="-1" dy="-7.8">8</tspan></text>
<text transform="translate(145,180.84) scale(1,0.995)" text-anchor="end" font-size="19.9">10<tspan font-size="14.4" dx="-1" dy="-7.8">5</tspan></text>
<text transform="translate(145,221.82) scale(1,0.995)" text-anchor="end" font-size="19.9">10<tspan font-size="14.4" dx="-1" dy="-7.8">2</tspan></text>
<text transform="translate(145,262.8) scale(1,0.995)" text-anchor="end" font-size="19.9">10<tspan font-size="14.4" dx="-1" dy="-7.8">−1</tspan></text>
<text transform="translate(162,124.95)" font-size="29.5">a)</text>
</g>
<g id="panel-b">
<clipPath id="c01"><rect x="998.6" y="95.4" width="200.4" height="192.1"/></clipPath>
<path d="M998.6,95.4V287.5M1098.8,95.4V287.5M1199,95.4V287.5M998.6,132.5H1199M998.6,173.5H1199M998.6,214.5H1199M998.6,255.4H1199" stroke="#b0b0b0" stroke-width="1.15" fill="none"/>
<g clip-path="url(#c01)" fill="none" stroke="#1f77b4" stroke-width="2.25" stroke-linejoin="round" stroke-linecap="butt">
<path d="M997.6,208.8 997.9,222.7 998.2,209 998.6,223.6 998.9,212.4 999.2,222.4 999.5,212.4 999.9,222.2 1000.2,207.8 1000.5,220.7 1000.8,206.3 1001.2,218.8 1001.5,208.4 1001.8,218.7 1002.1,213.9 1002.4,227.9 1002.8,209.1 1003.1,222.8 1003.4,210.2 1003.7,230.8 1004.1,213.9 1004.4,226.5 1004.7,214.7 1005,230.3 1005.4,217.1 1005.7,230.3 1006,213.3 1006.3,230.7 1006.7,212.4 1007,230.7 1007.3,218.9 1007.6,229.2 1007.9,216 1008.3,226.4 1008.6,215.3 1008.9,222.6 1009.2,215.2 1009.6,220.1 1009.9,215.4 1010.2,217.9 1010.5,215.8 1010.9,217.4 1011.2,214.8 1011.5,217.5 1011.8,212.6 1012.1,216.5 1012.5,212.4 1012.8,217.4 1013.1,210.2 1013.4,225.6 1013.8,214.7 1014.1,229.2 1014.4,211.3 1014.7,224.3 1015.1,215.5 1015.4,227.2 1015.7,216 1016,227.6 1016.4,211.4 1016.7,227.3 1017,213.3 1017.3,223.4 1017.6,213.2 1018,223.2 1018.3,215.4 1018.6,221 1018.9,212.5 1019.3,220.6 1019.6,213.2 1019.9,219.5 1020.2,212.3 1020.6,218.7 1020.9,214 1021.2,222.4 1021.5,214.1 1021.8,226.6 1022.2,237.5 1022.5,231.2 1022.8,215.8 1023.1,226.4 1023.5,217.6 1023.8,220 1024.1,210.2 1024.4,217.4 1024.8,213.6 1025.1,218.2 1025.4,207.6 1025.7,221.6 1026.1,213.3 1026.4,222.2 1026.7,214.9 1027,221.5 1027.3,214.3 1027.7,221.6 1028,213.9 1028.3,226.9 1028.6,213.6 1029,227.2 1029.3,212.5 1029.6,231 1029.9,217.9 1030.3,232.6 1030.6,237.9 1030.9,229.2 1031.2,213 1031.5,227 1031.9,212.8 1032.2,227.2 1032.5,212.5 1032.8,226.3 1033.2,212.2 1033.5,226.2 1033.8,212 1034.1,223.2 1034.5,214.1 1034.8,227.6 1035.1,205.9 1035.4,221 1035.8,211.9 1036.1,233.1 1036.4,213 1036.7,225.4 1037,216.2 1037.4,222.8 1037.7,212.3 1038,222 1038.3,213.6 1038.7,223 1039,226.6 1039.3,220.7 1039.6,211.3 1040,216.7 1040.3,211 1040.6,215.9 1040.9,214.1 1041.2,218.6 1041.6,214.3 1041.9,233.1 1042.2,215.4 1042.5,221.5 1042.9,215.3 1043.2,221.3 1043.5,216.7 1043.8,222.9 1044.2,215.6 1044.5,225.9 1044.8,231.1 1045.1,230 1045.5,214.6 1045.8,223.8 1046.1,216.5 1046.4,226.7 1046.7,212.6 1047.1,223.3 1047.4,217.9 1047.7,230.7 1048,248.1 1048.4,241.7 1048.7,214.5 1049,227 1049.3,212.8 1049.7,221.4 1050,213.1 1050.3,224.8 1050.6,213.7 1050.9,221.5 1051.3,216.4 1051.6,221.7 1051.9,214.2 1052.2,220.5 1052.6,212.1 1052.9,224.2 1053.2,214.2 1053.5,222.1 1053.9,210.2 1054.2,221.4 1054.5,210.5 1054.8,223.7 1055.2,211.5 1055.5,223.4 1055.8,229 1056.1,221.7 1056.4,208.2 1056.8,224.1 1057.1,212.7 1057.4,219.8 1057.7,210.2 1058.1,223.2 1058.4,211 1058.7,223.5 1059,215.7 1059.4,220.4 1059.7,212 1060,223 1060.3,213.1 1060.6,222 1061,211.9 1061.3,226.8 1061.6,216 1061.9,229.3 1062.3,212.4 1062.6,223.6 1062.9,215.5 1063.2,230.3 1063.6,215.2 1063.9,231.5 1064.2,215.4 1064.5,228.5 1064.9,219.7 1065.2,229.6 1065.5,215.2 1065.8,232.1 1066.1,219.7 1066.5,237.2 1066.8,242.8 1067.1,236.5 1067.4,215.6 1067.8,228.1 1068.1,214.6 1068.4,224.7 1068.7,216.7 1069.1,224.9 1069.4,214.6 1069.7,225.4 1070,217.2 1070.3,225.4 1070.7,218.7 1071,224.3 1071.3,215.6 1071.6,226.7 1072,219.8 1072.3,224.3 1072.6,215.4 1072.9,222 1073.3,216.1 1073.6,226.4 1073.9,216.2 1074.2,226.2 1074.6,215 1074.9,227.7 1075.2,217.6 1075.5,223.2 1075.8,216.9 1076.2,228.9 1076.5,216.1 1076.8,224.4 1077.1,217.1 1077.5,222.4 1077.8,217.9 1078.1,223.5 1078.4,219.3 1078.8,225.8 1079.1,219.1 1079.4,229.1 1079.7,217 1080,226.4 1080.4,215.8 1080.7,231.8 1081,216 1081.3,228.9 1081.7,217 1082,233.4 1082.3,217.4 1082.6,228.7 1083,218.7 1083.3,232.7 1083.6,214.9 1083.9,225.1 1084.3,214.9 1084.6,229 1084.9,214.6 1085.2,226.6 1085.5,219.2 1085.9,224.7 1086.2,214.8 1086.5,218.9 1086.8,213.1 1087.2,221.1 1087.5,210.3 1087.8,218.6 1088.1,210.5 1088.5,223 1088.8,212.4 1089.1,224.7 1089.4,215.5 1089.7,226.6 1090.1,212.6 1090.4,222.4 1090.7,214.4 1091,225.4 1091.4,216.4 1091.7,223.4 1092,212.9 1092.3,228.3 1092.7,210.7 1093,237.1 1093.3,210.9 1093.6,220.3 1094,210.7 1094.3,216.9 1094.6,209.7 1094.9,218 1095.2,210.7 1095.6,223.2 1095.9,232.3 1096.2,226.7 1096.5,209.3 1096.9,225 1097.2,211.6 1097.5,227.9 1097.8,208 1098.2,224.9 1098.5,195.7 1098.8,221.8 1099.1,203.2 1099.4,221.1 1099.8,211.8 1100.1,226.7 1100.4,205.5 1100.7,221.8 1101.1,206.1 1101.4,219.1 1101.7,204.6 1102,222.1 1102.4,208.2 1102.7,224.1 1103,209.9 1103.3,231.6 1103.6,219.5 1104,229.5 1104.3,216.4 1104.6,232.4 1104.9,211.6 1105.3,227.4 1105.6,215.5 1105.9,232.5 1106.2,211.2 1106.6,231.8 1106.9,218.6 1107.2,230.7 1107.5,211.7 1107.9,229 1108.2,213.6 1108.5,226.7 1108.8,218.1 1109.1,225.5 1109.5,217.5 1109.8,229.4 1110.1,216.8 1110.4,233.3 1110.8,222.7 1111.1,245.2 1111.4,214.4 1111.7,225.8 1112.1,214.6 1112.4,224.6 1112.7,214.7 1113,224.1 1113.3,218.8 1113.7,240 1114,210 1114.3,224.8 1114.6,210.9 1115,222.5 1115.3,211.6 1115.6,224 1115.9,211.8 1116.3,223.6 1116.6,216.7 1116.9,221.5 1117.2,216.4 1117.6,223.1 1117.9,215.2 1118.2,222.8 1118.5,217.1 1118.8,221 1119.2,217.8 1119.5,220.5 1119.8,214.1 1120.1,221.8 1120.5,213.8 1120.8,220.4 1121.1,215 1121.4,220.3 1121.8,211.6 1122.1,217.6 1122.4,211.1 1122.7,216.2 1123,211.8 1123.4,214.7 1123.7,210.1 1124,218.7 1124.3,213.4 1124.7,221.5 1125,218.5 1125.3,231.1 1125.6,217.9 1126,221.3 1126.3,216.3 1126.6,220.5 1126.9,213.4 1127.3,220.1 1127.6,215.4 1127.9,223.1 1128.2,212.2 1128.5,229 1128.9,211.7 1129.2,232.5 1129.5,215.4 1129.8,224.6 1130.2,216.3 1130.5,230.5 1130.8,219 1131.1,232 1131.5,214.8 1131.8,231.5 1132.1,217.2 1132.4,230.3 1132.7,219.3 1133.1,230.8 1133.4,218.2 1133.7,230.3 1134,221.7 1134.4,229.1 1134.7,221.1 1135,232.9 1135.3,220.5 1135.7,233.7 1136,214.2 1136.3,231.3 1136.6,214.4 1137,226.7 1137.3,214.2 1137.6,221.4 1137.9,215.5 1138.2,219.3 1138.6,215 1138.9,222.2 1139.2,215.6 1139.5,224.5 1139.9,217.8 1140.2,228.9 1140.5,219.4 1140.8,226.1 1141.2,215.2 1141.5,224.7 1141.8,212.1 1142.1,227.9 1142.4,215 1142.8,226.7 1143.1,213.7 1143.4,226.3 1143.7,218.8 1144.1,226.5 1144.4,219.3 1144.7,222.8 1145,214.5 1145.4,227.2 1145.7,213.8 1146,226.2 1146.3,214.2 1146.7,225.3 1147,208.7 1147.3,220.6 1147.6,214.6 1147.9,224.3 1148.3,214.4 1148.6,225.2 1148.9,216.5 1149.2,225.7 1149.6,216 1149.9,225.8 1150.2,215.8 1150.5,228.3 1150.9,233.1 1151.2,205.5 1151.5,213.4 1151.8,227.4 1152.1,214.5 1152.5,223.7 1152.8,215.4 1153.1,226 1153.4,215.1 1153.8,224.3 1154.1,215.3 1154.4,222 1154.7,216.9 1155.1,217.8 1155.4,215.6 1155.7,218.5 1156,215.6 1156.4,222.9 1156.7,216.7 1157,226.2 1157.3,214.1 1157.6,227.2 1158,235.9 1158.3,227.5 1158.6,212.7 1158.9,223.5 1159.3,213.3 1159.6,222 1159.9,213.6 1160.2,221.6 1160.6,212.1 1160.9,221.5 1161.2,212 1161.5,220.2 1161.8,211.3 1162.2,221.1 1162.5,215.5 1162.8,220.2 1163.1,214.1 1163.5,226.2 1163.8,213.4 1164.1,222.6 1164.4,213.1 1164.8,220.7 1165.1,212.4 1165.4,218.9 1165.7,212 1166.1,206.7 1166.4,211.8 1166.7,225.5 1167,213.6 1167.3,225.3 1167.7,215.9 1168,224.1 1168.3,217.5 1168.6,222.5 1169,213.8 1169.3,225.7 1169.6,231.1 1169.9,227.6 1170.3,212.8 1170.6,222.2 1170.9,216 1171.2,221.5 1171.5,212.1 1171.9,226.4 1172.2,211.2 1172.5,224.1 1172.8,211.8 1173.2,231.7 1173.5,214.7 1173.8,234.1 1174.1,213 1174.5,234.3 1174.8,214.9 1175.1,232.5 1175.4,217.6 1175.8,227.7 1176.1,217 1176.4,231.3 1176.7,215.4 1177,227.6 1177.4,217.3 1177.7,224.3 1178,215.4 1178.3,222.3 1178.7,216.3 1179,221.8 1179.3,215.6 1179.6,220.9 1180,215.1 1180.3,220.7 1180.6,215.9 1180.9,221.7 1181.2,218.3 1181.6,230.1 1181.9,243.2 1182.2,237.4 1182.5,213.4 1182.9,225.6 1183.2,211.3 1183.5,221 1183.8,214.2 1184.2,222.8 1184.5,211.2 1184.8,221.2 1185.1,214 1185.5,223.4 1185.8,211.5 1186.1,222.8 1186.4,213.6 1186.7,223.5 1187.1,213.4 1187.4,222.5 1187.7,213.3 1188,224.7 1188.4,211.7 1188.7,224.8 1189,214.2 1189.3,222.9 1189.7,214 1190,226.1 1190.3,212.4 1190.6,226.2 1190.9,218.3 1191.3,222 1191.6,217.5 1191.9,224.9 1192.2,214.9 1192.6,223.8 1192.9,213.3 1193.2,223.8 1193.5,214.3 1193.9,220 1194.2,210.4 1194.5,224.4 1194.8,212.5 1195.2,223.6 1195.5,215.4 1195.8,226.9 1196.1,213.9 1196.4,229.7 1196.8,211.2 1197.1,232.3 1197.4,217.8 1197.7,232.1 1198.1,214 1198.4,227.1 1198.7,213.6 1199,227.5 1199.4,217.5 1199.7,230.2 1200,216.7"/>
</g>
<path d="M998.6,287.5v4.8M1098.8,287.5v4.8M1199,287.5v4.8M998.6,132.5h-4.3M998.6,173.5h-4.3M998.6,214.5h-4.3M998.6,255.4h-4.3" stroke="#1c1c1c" stroke-width="1.07" fill="none"/>
<rect x="998.6" y="95.4" width="200.4" height="192.1" fill="none" stroke="#1c1c1c" stroke-width="1.07"/>
<text transform="translate(998.1,311.94) scale(1,1.08)" text-anchor="middle" font-size="19.6">49.5</text>
<text transform="translate(1098.3,311.94) scale(1,1.08)" text-anchor="middle" font-size="19.6">50.0</text>
<text transform="translate(1198.5,311.94) scale(1,1.08)" text-anchor="middle" font-size="19.6">50.5</text>
<text transform="translate(989.1,139.86) scale(1,0.995)" text-anchor="end" font-size="19.9">10<tspan font-size="14.4" dx="-1" dy="-7.8">8</tspan></text>
<text transform="translate(989.1,180.84) scale(1,0.995)" text-anchor="end" font-size="19.9">10<tspan font-size="14.4" dx="-1" dy="-7.8">5</tspan></text>
<text transform="translate(989.1,221.82) scale(1,0.995)" text-anchor="end" font-size="19.9">10<tspan font-size="14.4" dx="-1" dy="-7.8">2</tspan></text>
<text transform="translate(989.1,262.8) scale(1,0.995)" text-anchor="end" font-size="19.9">10<tspan font-size="14.4" dx="-1" dy="-7.8">−1</tspan></text>
<text transform="translate(1007.6,124.95)" font-size="29.5" letter-spacing="0.5">b)</text>
</g>
<g id="panel-c">
<clipPath id="c02"><rect x="1280" y="95.4" width="200.5" height="192.1"/></clipPath>
<path d="M1280,95.4V287.5M1380.5,95.4V287.5M1480.5,95.4V287.5M1280,132.5H1480.5M1280,173.5H1480.5M1280,214.5H1480.5M1280,255.4H1480.5" stroke="#b0b0b0" stroke-width="1.15" fill="none"/>
<g clip-path="url(#c02)" fill="none" stroke="#1f77b4" stroke-width="2.25" stroke-linejoin="round" stroke-linecap="butt">
<path d="M1278,210.8 1280,210.8 1281.9,215.7 1283.1,215.8 1284.9,226 1288.1,208.9 1291.6,247.1 1293.3,219.1 1294.9,217.9 1297.7,211.8 1299.3,217 1301,219.1 1303,213.4 1304.2,213.6 1305.8,224.9 1307.4,223.1 1310.7,216.6 1312.5,216.2 1313.9,221.9 1315.6,210.6 1317.2,211.4 1318.8,213.2 1320,213.4 1321.9,229.2 1323.7,211.6 1325.1,216.2 1326.9,217 1328.1,224.7 1329.8,218.7 1331.4,221.9 1333,217.9 1335,226.4 1336.7,230.8 1338.1,232.5 1339.7,223.9 1341.5,222.7 1343.1,218.7 1344.8,217.9 1346,215.8 1347.4,221.5 1349.1,206.7 1350.8,220.7 1352.5,211.4 1354.1,212.6 1355.6,211.4 1357.1,218.3 1358.6,215 1360,214.6 1362,232.1 1365.2,211.8 1367.1,213.4 1368.7,219.1 1370.3,221.1 1371.8,228 1373.4,213.6 1375.2,214.2 1377.2,219.1 1378.8,219.9 1380.5,217.4 1381.4,213.8 1382.7,212.6 1384.5,198.8 1386.1,209.3 1387.6,217.9 1389.2,218.7 1391,232.9 1392.6,243.8 1394.2,217.4 1395.7,213.4 1397.3,219.9 1398.9,236.5 1400.7,217.4 1402.3,216.6 1404,215.7 1405.6,217 1407,222.7 1408.8,224.6 1410.4,223.9 1411.9,215.7 1413.5,223.5 1415.2,219.5 1416.8,221.9 1418.4,220.3 1419.8,215.4 1421.4,224.6 1423,226.8 1424.7,208.1 1426.3,223.1 1428,238.5 1429.6,236.1 1431.1,213.4 1432.8,230 1434.4,224.3 1436,226.4 1437.6,213.8 1439.2,213.8 1441.3,221.1 1442.5,220.3 1444.1,215.2 1445.7,215.7 1447.4,216 1449,217.4 1450.6,219.9 1452,227.6 1453.8,217.4 1455.5,214.9 1456.7,214.6 1458.3,229.2 1459.9,222.7 1461.4,215.8 1463,229.8 1464.8,218.1 1466.4,223.8 1468,221.5 1470.1,221.7 1471.3,223.1 1472.7,233.3 1474.5,218.1 1475.8,220.3 1477.4,219.1 1479,219.5 1480.4,217 1482.5,217"/>
</g>
<path d="M1280,287.5v4.8M1380.5,287.5v4.8M1480.5,287.5v4.8M1280,132.5h-4.3M1280,173.5h-4.3M1280,214.5h-4.3M1280,255.4h-4.3" stroke="#1c1c1c" stroke-width="1.07" fill="none"/>
<rect x="1280" y="95.4" width="200.5" height="192.1" fill="none" stroke="#1c1c1c" stroke-width="1.07"/>
<text transform="translate(1279.5,311.94) scale(1,1.08)" text-anchor="middle" font-size="19.6">65.0</text>
<text transform="translate(1380,311.94) scale(1,1.08)" text-anchor="middle" font-size="19.6">65.1</text>
<text transform="translate(1480,311.94) scale(1,1.08)" text-anchor="middle" font-size="19.6">65.2</text>
<text transform="translate(1270.5,139.86) scale(1,0.995)" text-anchor="end" font-size="19.9">10<tspan font-size="14.4" dx="-1" dy="-7.8">8</tspan></text>
<text transform="translate(1270.5,180.84) scale(1,0.995)" text-anchor="end" font-size="19.9">10<tspan font-size="14.4" dx="-1" dy="-7.8">5</tspan></text>
<text transform="translate(1270.5,221.82) scale(1,0.995)" text-anchor="end" font-size="19.9">10<tspan font-size="14.4" dx="-1" dy="-7.8">2</tspan></text>
<text transform="translate(1270.5,262.8) scale(1,0.995)" text-anchor="end" font-size="19.9">10<tspan font-size="14.4" dx="-1" dy="-7.8">−1</tspan></text>
<text transform="translate(1289,124.95)" font-size="29.5" letter-spacing="0.5">c)</text>
</g>
<g id="panel-d">
<clipPath id="c10"><rect x="154.5" y="335.7" width="762.9" height="193.1"/></clipPath>
<path d="M201.8,335.7V528.8M335.6,335.7V528.8M469.6,335.7V528.8M602.9,335.7V528.8M737.3,335.7V528.8M870.8,335.7V528.8M154.5,373.2H917.4M154.5,414.2H917.4M154.5,455.2H917.4M154.5,496.1H917.4" stroke="#b0b0b0" stroke-width="1.15" fill="none"/>
<g clip-path="url(#c10)" fill="none" stroke="#ff7f0e" stroke-width="2.25" stroke-linejoin="round" stroke-linecap="butt">
<path d="M201.3,419.6V344.2L201.8,372V423.7L202.3,412V379.1L202.8,386.8V420.1L203.3,417.3V392.2L203.8,396.6V417.8L204.3,418.2V400.4L204.8,402.2V436L205.3,422.2V405.7L205.8,408.2V437.9L206.3,434V409.4L206.8,411.6V425.1L207.3,432.5V414.3L207.8,415V431.4L208.3,427.8V417.2L208.8,416.4V427L209.3,425.8V416.9L209.8,419.1V427.9L210.3,426.9V418.6L210.8,421.8V425.5L211.3,427.2V421.3L211.8,423.5V427L212.3,428.3V423.4L212.8,425.2V431.4L213.3,428.9V426L213.8,425.6V432.3L214.3,432.1V427.3L214.8,428.4V431.2L215.3,433.5V428.3L215.8,428.2V432L216.3,433.2V428.2L216.8,429.1V434.9L217.3,435.6V428.2L217.8,428.9V433L218.3,435V429L218.8,429.5V434.6L219.3,437V428.5L219.8,429.5V435.8L220.3,438V430.7L220.8,429.5V438.8L221.3,440.9V428.4L221.8,430.5V439.8L222.3,435.9V429.1L222.8,431.2V436.3L223.3,437V430.8L223.8,431.3V437.9L224.3,439.7V431.5L224.8,430.6V437.8L225.3,439.9V431.6L225.8,429.9V441.7L226.3,439.8V431.8L226.8,433.2V439.1L227.3,439.3V432.6L227.8,431.1V438.7L228.3,440.5V432.8L228.8,434.2V442.2L229.3,444.3V433.5L229.8,434.2V442.5L230.3,439.6V431.3L230.8,431.4V445.6L231.3,441.5V432.4L231.8,433.3V442.6L232.3,444.3V432.9L232.8,434.7V442.2L233.3,442.8V434.5L233.8,434.1V447L234.3,443.1V434.6L234.8,435.7V447.4L235.3,445.9V432.6L235.8,434.7V444.2L236.3,443.8V434.6L236.8,435.2V444.6L237.3,443.2V435.4L237.8,435.2V444.5L238.3,442.8V433.8L238.8,434.4V447.3L239.3,442.9V435.5L239.8,436.9V448.5L240.3,448.7V434.4L240.8,436V449L241.3,450.2V435.3L241.8,437.1V446.7L242.3,458.3V435.2L242.8,436V446.5L243.3,448.3V435.8L243.8,436V450.9L244.3,447.1V436.2L244.8,435.8V447.9L245.3,449.9V434.1L245.8,437V457.1L246.3,481.1V436.5L246.8,437.5V451.2L247.3,449.1V435.4L247.8,435.8V457.2L248.3,463.7V437L248.8,436.5V456.3L249.3,452V435.9L249.8,435.9V452L250.3,451.5V437.3L250.8,434.9V458L251.3,453.3V435.6L251.8,437.5V462.9L252.3,457.2V435.1L252.8,435.8V469.2L253.3,472.9V435.6L253.8,436.6V461.2L254.3,468V437.4L254.8,434.9V458.1L255.3,461.5V436.5L255.8,437.2V463.5L256.4,462.9V437.5L256.9,435.1V457.5L257.4,462.6V437.2L257.8,436.9V455.9L258.4,468.8V436.8L258.9,436V463.6L259.3,456.6V436.8L259.9,438V460.9L260.4,459.3V437L260.9,437.3V457.6L261.4,462.4V437.2L261.8,436.8V471.7L262.4,466.2V438.1L262.9,438.3V467.7L263.3,471.1V438.5L263.9,438.1V462.1L264.4,469.7V439.3L264.9,437.3V458.3L265.4,465V438.2L265.9,438.5V459.7L266.4,459.1V438.9L266.9,438.3V462.3L267.4,459.9V438.6L267.9,438.4V460.6L268.4,464.1V438L268.9,437.8V468.6L269.4,467V436.7L269.9,436.1V469.2L270.4,482.5V439.4L270.9,438.8V467.4L271.4,468.8V437.7L271.9,439V475.8L272.4,467.4V436.8L272.9,438.9V474.6L273.4,468.4V437.5L273.9,437.9V476.3L274.4,468.2V437.3L274.9,439.8V465.6L275.4,478.6V439L275.9,437.8V471.1L276.4,467.6V439.6L276.9,439.9V470.8L277.4,465.5V438.8L277.9,438.3V461.6L278.4,462.2V439.8L278.9,439.8V472.8L279.4,473.2V440L279.9,438.9V465.9L280.4,469.2V438.2L280.9,439.5V482L281.4,472.4V437.3L281.9,438.9V458.2L282.4,458V438.5L282.9,439.3V469.7L283.4,482.9V438.5L283.9,437V462.5L284.4,485.2V439L284.9,439.7V481.8L285.4,472.5V439.1L285.9,439.1V475.6L286.4,460.5V439L286.9,439V474.1L287.4,463.7V440.4L287.9,439.9V476.2L288.4,479.9V439.2L288.9,438.5V470.1L289.4,466.1V438.3L289.9,438.3V467.4L290.4,462.5V439.2L290.9,437.4V469.1L291.4,466.4V439.7L291.9,439.4V481.9L292.4,464.5V438.6L292.9,438V465.3L293.4,463.5V439.6L293.9,438.2V478.9L294.4,469.2V439.6L294.9,438.9V466.2L295.4,493.6V441.2L295.9,441V463L296.4,493.4V437.7L296.9,440.7V468.7L297.4,471.7V439.2L297.9,440.2V465.4L298.4,462.5V440.5L298.9,440V469.2L299.4,462.8V437.9L299.9,439.6V477.5L300.4,472.4V438L300.9,439.3V466L301.4,471.9V439.9L301.9,439.9V469.1L302.4,467.1V440.6L302.9,441.8V468.2L303.4,470.9V440.2L303.9,439.8V478.3L304.4,471.3V438.6L304.9,439.6V475.4L305.4,464.9V438.9L305.9,438.2V465.4L306.4,475.9V438.3L306.9,439.1V468.8L307.4,467.6V441.2L307.9,440.6V471.4L308.4,481.8V441L308.9,438.9V466.8L309.3,481.9V439.3L309.9,440.7V467.6L310.4,482.4V440.2L310.9,439.3V469.1L311.4,474.9V439.2L311.9,441.2V472.3L312.4,460.5V439.7L312.9,439.5V462.5L313.4,469.6V441.8L313.9,441.6V467.9L314.3,466.1V440.7L314.9,441.3V467.5L315.4,480V439.1L315.8,440V471.8L316.4,465.8V440L316.9,439.8V467.3L317.3,476.5V441.1L317.9,441.4V465.3L318.4,469.6V440.4L318.9,441V475.4L319.4,485.3V438.9L319.9,440.4V467.7L320.4,472.6V441.1L320.9,439.5V462.2L321.4,476.2V441.2L321.9,441.7V484.5L322.3,476.7V440L322.9,441V473.4L323.4,488.2V441.6L323.8,440.4V473.8L324.4,477.1V439.1L324.9,441.7V461.3L325.3,479.4V440.1L325.9,440.2V466.5L326.4,479.6V442.1L326.9,439.9V470.9L327.4,469.7V441.2L327.9,442.1V471.7L328.4,497.5V441.1L328.9,441.7V473.5L329.4,470.1V442.1L329.9,442.4V466.4L330.4,477.9V442L330.9,441.5V471.9L331.4,462.5V440.9L331.9,442.5V468.6L332.4,469.5V440.7L332.9,442.4V474.6L333.4,467.1V442.2L333.9,440.8V467.4L334.4,473.9V439.9L334.9,439.6V471.8L335.4,470.2V441.1L335.9,441.6V468.4L336.4,473.9V442.6L336.9,441.4V476L337.4,481.6V442.3L337.9,441.5V469.6L338.4,469.2V441.3L338.9,440.4V479.7L339.4,467.2V442L339.9,439.7V480.7L340.4,467.8V439.7L340.9,440.5V482.2L341.4,470.9V441L341.9,440.9V472.8L342.4,482V440.2L342.9,439.7V469.8L343.4,468.9V440.4L343.9,441.3V466.6L344.4,473.3V442.9L344.9,441.3V472.9L345.4,470.8V442.1L345.9,442.6V466.2L346.4,475.3V440.1L346.9,440.6V470.4L347.4,471.7V441.7L347.9,441.8V480.2L348.4,470.3V441.8L348.9,442.4V467.5L349.4,473.7V442L349.9,441.9V465L350.4,472.5V443.4L350.9,440.2V466.9L351.4,469.2V443.3L351.9,442.1V474.8L352.4,476.9V442.9L352.9,442.6V475.1L353.4,476.1V440L353.9,442.2V488.4L354.4,492.8V441.2L354.9,442.9V475.1L355.4,480.1V442.5L355.9,440.4V467.7L356.4,464.6V440.2L356.9,442.4V477.4L357.4,470V440L357.9,441.5V475.8L358.4,504.3V441.9L358.9,442.3V474.4L359.4,465.6V442.4L359.9,440.1V471L360.4,483.7V441.4L360.9,441.9V482.6L361.4,475V443.3L361.9,442.6V472.3L362.4,473.1V440.1L362.9,441.9V467.6L363.4,499.8V442.4L363.9,443.7V483L364.4,476.8V442.7L364.9,442.7V467.9L365.4,499.5V442.9L365.9,442.5V473L366.4,497.9V442.8L366.9,443.3V472.9L367.4,473.9V443.2L367.9,442.1V482.6L368.4,472.3V443.3L368.9,440.2V471.7L369.4,474.4V442.9L369.9,442.2V468.9L370.4,487.2V442.4L370.9,442.7V476.8L371.4,474V442.6L371.9,442.9V476.8L372.4,483.1V442.7L372.9,443.2V483.5L373.4,469.4V441.7L373.9,441.8V478.2L374.4,471.2V442.7L374.9,440.7V468.1L375.4,496.1V442.5L375.9,442V480.5L376.4,472.6V442.2L376.9,442.7V469L377.4,476.4V440.4L377.9,441V468.3L378.4,464V441.1L378.9,440.4V471.4L379.4,467.2V444.2L379.9,442.3V484.9L380.4,475.9V440.4L380.9,443.3V467.8L381.4,470.2V443L381.9,442.3V484.6L382.4,479.3V441.8L382.9,442.8V476.9L383.4,471.9V442.9L383.9,441.5V470L384.4,474.2V443.8L384.9,441.5V492.1L385.4,467.7V442.6L385.9,442.1V466.3L386.4,476.4V441.8L386.9,443.5V469L387.4,473.6V440.7L387.9,441.3V474.3L388.4,466.2V442.8L388.9,443.2V499L389.4,475.3V443.7L389.9,443V479.3L390.4,474.5V441.9L390.9,441.4V474.5L391.4,480.6V442.9L391.9,443.2V472.8L392.4,475.9V442.9L392.9,440.6V466.2L393.4,466.2V443.6L393.9,443.4V476.1L394.4,470V442L394.9,443.5V472.1L395.4,476.3V443.1L395.9,441.6V496.1L396.4,466.7V443.1L396.9,442.3V480.8L397.4,469.5V442.4L397.9,443.2V470.1L398.4,480.2V443.2L398.9,443.1V476.3L399.4,475V441.2L399.9,444.2V474.1L400.4,472.5V443.7L400.9,443V476.8L401.4,472.6V443.3L401.9,442.5V475.2L402.4,465.9V442.6L402.9,442.7V471.1L403.4,473.8V443.2L403.9,442.7V473.1L404.4,484.3V441.8L404.9,441.6V478.5L405.4,470.9V442.6L405.9,441.7V464L406.4,477.8V444.1L406.9,443.6V463.4L407.4,476.8V442L407.9,443V474.9L408.4,464.8V443.2L408.9,442.6V468.9L409.4,473.7V443.1L409.9,441V464.2L410.4,463.8V443L410.9,441.6V482.1L411.4,469.6V442.5L411.9,441V478.6L412.4,496.1V442.8L412.9,440.9V475.3L413.4,474.5V442.6L413.9,444.3V482.9L414.4,470V442.1L414.9,441.5V491.2L415.4,465.4V443.9L415.8,440.9V478.7L416.4,470.9V442.7L416.9,442.1V473.6L417.3,468.7V443.5L417.9,441V480.4L418.4,491.7V442.5L418.8,442.8V481.3L419.4,471.3V441L419.9,442.7V469.2L420.4,482V442.8L420.9,444.2V472.9L421.4,488.4V442.8L421.9,442.1V468.9L422.4,485.4V443.2L422.9,442.4V481.3L423.4,471.8V442.7L423.9,443.6V474.6L424.4,478.5V442.8L424.9,443V466.1L425.4,473.2V443.3L425.9,442.5V481.9L426.4,475.5V444.2L426.9,443.3V470.9L427.3,474.8V443.1L427.9,441.1V484.4L428.4,481.4V442.4L428.8,442.6V479.1L429.4,473.4V443.9L429.9,443.1V472L430.3,474.5V443.3L430.9,441.1V480.2L431.4,477V443.1L431.8,441.7V468L432.4,479.3V442.6L432.9,441.5V471.6L433.3,496.1V444.9L433.9,441.1V465.5L434.4,499.2V441.1L434.8,443.9V477.5L435.4,470.1V444.3L435.9,443.5V492.1L436.4,476.1V442.8L436.9,443V465.7L437.4,471.4V443.2L437.9,441.3V484.1L438.4,485.2V442.9L438.9,441.2V466.2L439.4,466.8V442.9L439.9,443.9V481.6L440.4,468.1V441.2L440.9,441.2V470.3L441.4,475.9V443.2L441.8,442.3V479.3L442.4,482.9V442.7L442.9,443.9V480.7L443.3,473.8V442.9L443.9,442.7V493.1L444.4,472.1V442.9L444.8,443V472.5L445.4,472V442.9L445.9,442.5V469L446.3,488V442.3L446.9,444.3V465.2L447.4,474.2V441.4L447.8,443.3V474.6L448.4,481.7V442.6L448.9,443.5V471.7L449.3,468V444.5L449.9,442.7V486.3L450.4,477.7V443.5L450.8,443.1V469.9L451.4,490.3V443.8L451.9,444V472.9L452.4,479.9V443.7L452.9,442V473.6L453.4,482.8V441.3L453.9,441.3V476.8L454.4,476.7V443.5L454.9,442.4V475.8L455.4,464.8V444.1L455.9,442.5V483L456.4,478.5V443.4L456.9,442V471.4L457.4,476.7V444L457.9,442.2V496.1L458.4,476.4V444.5L458.9,442V465.3L459.4,481V443.5L459.9,444.2V474.7L460.4,473.7V443.8L460.9,442.7V473L461.4,475.9V443.4L461.9,444V473.5L462.4,496.1V444L462.9,442.8V479L463.4,486.4V442.9L463.9,444.6V473.5L464.4,474.3V442.3L464.9,444.3V465.1L465.4,469.6V444L465.9,445V471.1L466.4,478.2V443.3L466.9,442.1V479.8L467.4,471.2V441.5L467.9,443.5V479.9L468.4,486.5V444.4L468.9,443.4V477.2L469.4,473.3V443.9L469.9,443.8V504.3L470.4,484.1V444L470.9,441.5V468.1L471.4,474.8V443.6L471.9,445.2V500.1L472.4,479.1V443.4L472.9,442.8V489.3L473.4,478.9V442.3L473.9,442.6V475.3L474.4,482.5V442.8L474.9,444.1V466.2L475.4,474.6V443.7L475.9,443.5V468.1L476.4,468.8V444.3L476.9,443.6V483.7L477.4,485.2V444.4L477.9,444.5V473L478.4,491.4V442.2L478.9,444.2V500.2L479.4,477V443.4L479.9,443V470.5L480.4,480.6V441.5L480.9,443.9V477.2L481.4,471.6V444.2L481.9,441.9V479.5L482.4,480.1V443.9L482.9,443.9V476.5L483.4,499V444.3L483.9,443.5V470.7L484.4,483.7V444L484.9,443.7V479.2L485.4,487.3V443.8L485.9,443V474.7L486.4,478.2V443.5L486.9,442.9V473.6L487.4,471.1V443.9L487.9,443.8V480.3L488.4,476.8V441.5L488.9,444V472.7L489.4,478.9V442.5L489.9,442.8V466.6L490.4,489.9V443L490.9,444.4V481.9L491.4,477.6V445.2L491.9,442.6V470.9L492.4,484.9V444.5L492.9,444V467.2L493.4,466.8V441.5L493.9,441.5V471.4L494.4,475.7V441.5L494.9,443.2V477.9L495.4,476.4V443.5L495.9,443.5V467.3L496.4,473.1V443.8L496.9,441.5V466.1L497.4,473.6V442.3L497.9,441.5V479.7L498.4,484.5V443.9L498.9,443.2V470.9L499.4,477.5V442.8L499.9,443.7V471.5L500.4,465.9V443.2L500.9,444.1V494.3L501.4,487.7V443.8L501.9,444.3V476.5L502.4,477.1V443L502.9,443.8V475.5L503.4,474.4V443.6L503.9,443.7V475L504.4,484.4V444.7L504.9,441.7V476.5L505.4,483V442.7L505.9,443.8V479.6L506.4,472V441.7L506.9,442.9V488.2L507.4,477.4V441.5L507.9,443.5V471.9L508.4,477.9V444.4L508.9,444.4V473.1L509.4,474.4V442.6L509.9,443.2V471.5L510.4,467.8V444.1L510.9,443.3V477.5L511.4,467V443.3L511.9,442V471.1L512.4,474.9V444.7L512.9,444.4V468.6L513.4,474.4V443.5L513.9,444.3V470.7L514.4,467.1V441.5L514.9,444.1V476.6L515.4,473.8V443L515.9,443.5V475L516.4,483V442.5L516.9,444.7V483.6L517.4,483.6V443.8L517.9,443.5V467.1L518.4,466.6V444.4L518.9,443V476.1L519.4,466.8V443.3L519.9,442.2V465.3L520.4,469.1V443.5L520.9,443.9V478.5L521.4,470.3V443.8L521.9,444V477.7L522.4,467.3V441.5L522.9,442.4V465.8L523.4,462.8V443.8L523.9,443.5V469.5L524.4,478.4V444.4L524.9,443.1V468.1L525.4,479V442.7L525.9,444V482.9L526.4,481.3V443.5L526.9,442.9V478L527.4,471.8V443.5L527.9,443.2V468.2L528.4,478V444.1L528.9,442.4V472.1L529.4,505.7V444.4L529.9,443.5V473.7L530.4,488.5V443.9L530.9,444.4V472.3L531.4,465.6V442.1L531.9,444.1V474.6L532.4,475.7V443.5L532.9,443.1V473.3L533.4,472.3V443.9L533.9,443.4V484.8L534.4,473.1V443.3L534.9,443.5V478.2L535.4,470.6V434L535.9,444V472.5L536.4,471.9V441.6L536.9,443.3V468.3L537.4,472.5V442.8L537.9,443.3V477L538.4,483.2V443.9L538.9,443.4V484.6L539.4,512.5V442.2L539.9,441.9V476L540.4,476.7V441.4L540.9,444V469.1L541.4,471.4V443.7L541.9,444.3V464.9L542.4,481.8V441.4L542.9,442.9V481.5L543.4,474.9V442.7L543.9,443.5V466.3L544.4,508.4V443.9L544.9,443.6V473.6L545.4,508.4V443.8L545.9,443.2V480.5L546.4,469.9V442.2L546.9,442.1V466.3L547.4,466.4V443.8L547.9,444.1V480.8L548.4,478.9V442.6L548.9,443.4V465.1L549.4,464V444L549.9,442.9V473.4L550.4,483.2V444.2L550.9,444.3V467L551.4,464.2V444.8L551.9,443.9V482L552.4,498.7V443.2L552.9,444V471.4L553.4,464.9V444.4L553.9,443.2V474.9L554.4,477.5V441.5L554.9,444.8V473.2L555.4,474.4V443.8L555.9,441.5V476.7L556.4,467.6V442.8L556.9,442V466L557.4,498.9V441.4L557.9,443.8V490.7L558.4,471.9V442.4L558.9,443.7V471.4L559.4,479.2V441.2L559.9,441.2V486.1L560.4,481.6V444L560.9,442V476.3L561.4,476.5V444.4L561.9,442.8V484.8L562.4,475.5V443.1L562.9,442.8V468.4L563.4,478.7V442.2L563.9,441.6V488.4L564.4,474.4V443.1L564.9,444.2V477.9L565.4,470.6V441.2L565.9,444.3V475.2L566.4,464.4V442.1L566.9,444V468.9L567.4,469.6V441.3L567.9,442.6V487.4L568.4,476.5V443.5L568.9,441.6V473.1L569.4,466.1V443.8L569.9,443.7V464.7L570.4,498.7V443.4L570.9,443.2V471.1L571.4,465.6V443.7L571.9,441.1V469.8L572.4,468.4V443.1L572.9,441.1V481.7L573.4,475.7V443.6L573.9,443V488.5L574.4,476.6V441.9L574.9,441.1V467L575.4,471.9V443.1L575.9,443V464.1L576.4,490.1V441L576.9,443.1V473.1L577.4,470.7V443.1L577.9,441V499L578.4,473V442.9L578.9,443.9V486.4L579.4,471.3V441L579.9,442.9V467.8L580.4,472.9V443.2L580.9,441.2V467.3L581.4,471.2V444.5L581.9,441V475.7L582.4,466.9V444L582.9,444V473.2L583.4,468.7V441L583.9,442.9V469.2L584.4,473.8V443.7L584.9,441V503L585.4,470.8V443.2L585.9,440.9V466.5L586.4,480.2V442.9L586.9,443.1V461.5L587.4,483.2V442.6L587.9,441V481.5L588.4,493.5V440.9L588.9,442.2V480L589.4,468.7V443.1L589.9,441.4V469.4L590.4,466.4V440.9L590.9,442.7V469.9L591.4,472.6V442.1L591.9,441.3V479.2L592.4,468.8V442.2L592.9,442.3V507.8L593.4,475.9V443.1L593.9,442.5V474.3L594.4,472.4V443.4L594.9,443.7V488.3L595.4,469.1V443.3L595.9,442.9V472.3L596.4,492.3V443.1L596.9,442.1V477.6L597.4,475.7V443L597.9,442.7V469L598.4,477.6V443.2L598.9,443.8V467L599.4,485.3V442L599.9,443.4V484.6L600.4,463.1V442.8L600.9,442.4V470.2L601.4,469.1V442.2L601.9,442.9V465L602.4,477.8V443.2L602.9,441.1V468.4L603.4,475V442.3L603.9,443.3V468.5L604.4,468.5V441.8L604.9,442.5V490.6L605.4,481.8V442.8L605.9,443.7V475.5L606.4,472.4V443.3L606.9,443.7V465.6L607.4,476.2V442L607.9,441.8V491.1L608.4,467.1V442.8L608.9,443.9V469.7L609.4,470V443.4L609.9,440.7V474.6L610.4,465.6V441L610.9,442.8V481.3L611.4,471V443.5L611.9,442.7V466L612.4,497.5V442.7L612.9,444.1V472.9L613.4,467.7V441.9L613.9,442.1V476.4L614.4,473.7V442.3L614.9,441.5V461.8L615.4,470.8V441.4L615.9,443.2V486.5L616.4,472.4V443.7L616.9,442.8V470.4L617.4,468.3V441L617.9,441.6V489.1L618.4,473.6V443.1L618.9,441.8V473.5L619.4,479V442.3L619.9,443V464.7L620.4,487.3V441.8L620.9,443V466.7L621.4,477.8V442.9L621.9,443.2V471L622.4,465.3V442.3L622.9,442.6V469L623.4,466.1V442.1L623.9,444.1V470L624.4,512.5V442.7L624.9,443.8V472.1L625.4,469.2V442.9L625.9,443.6V484.2L626.4,478.6V442.3L626.9,440.5V475.2L627.4,487.6V441.1L627.9,442.4V480.7L628.4,469.5V442.8L628.9,444.3V475L629.4,475V442L629.9,442.8V469.6L630.3,474.4V442.7L630.9,442.1V465.9L631.4,477.5V443.2L631.9,442.2V469.2L632.4,469.7V443.4L632.9,445.4V465.1L633.3,477.8V448.1L633.9,450.2V464.3L634.4,475.4V450.5L634.9,450.2V499.3L635.4,476.8V448.1L635.8,445.4V480.2L636.3,472.5V443.4L636.9,442.7V490.7L637.4,480.9V443.2L637.9,442.9V464.6L638.4,471.6V442.6L638.8,442.4V471.5L639.4,471.6V442.9L639.9,443.5V469.5L640.4,477.1V442.2L640.9,441.9V469.5L641.4,467.1V441.8L641.8,443.7V472.5L642.4,482V443.3L642.9,441.8V469.4L643.4,469.8V443.3L643.9,443.5V465.8L644.4,485.3V442.4L644.8,442.6V470.1L645.4,484.6V441.8L645.9,443.6V479.4L646.4,465.3V442.9L646.9,442.8V467.2L647.4,463.6V442.7L647.8,444V476L648.4,474.2V442.1L648.9,443.8V465.3L649.4,465.3V442.7L649.9,440.4V483.7L650.4,490.3V443.1L650.8,441.8V479.7L651.4,472.7V442.3L651.9,440.3V486.3L652.4,468.9V442.3L652.9,442.9V471.2L653.3,475.4V440.3L653.8,441.5V471.5L654.4,465V443.1L654.9,442.1V484.3L655.4,470.4V442.6L655.9,440.6V468.3L656.3,465.7V443L656.9,441.7V480L657.4,468.8V440.2L657.9,440.4V471.5L658.4,471.7V440.5L658.9,441.7V470L659.3,490.3V442.6L659.9,443.3V473.9L660.4,488.7V442.9L660.9,440.5V465.3L661.4,466.3V441.5L661.9,443.1V469.1L662.3,470V440.2L662.9,442.1V474L663.4,471.3V442.9L663.9,442.1V470.2L664.4,486.9V442.3L664.9,442.8V498.9L665.3,467.8V441.7L665.9,442V485.8L666.4,471.9V442.6L666.9,441V470.9L667.4,483.1V441.9L667.8,442.4V481L668.3,466.9V442.9L668.9,442V474.7L669.4,473.1V442.9L669.9,440.2V470.4L670.4,470.2V442L670.8,440.2V476.6L671.4,474.7V442.5L671.9,442.1V476.3L672.4,478.5V442L672.9,440.3V466.8L673.4,472.8V443L673.8,442.2V469.5L674.4,468.8V443.1L674.9,440.2V470.5L675.4,464.9V440.9L675.9,442.2V498.9L676.4,472V441.5L676.8,441.9V473.8L677.4,481.9V441.7L677.9,440.7V467.7L678.4,469.9V440.1L678.9,443.1V484.1L679.4,469.8V441.8L679.8,440.2V484.2L680.4,478.1V442.2L680.9,442.5V474.9L681.4,478.6V442.9L681.9,441.6V478L682.3,470.4V442.6L682.8,442.2V464.8L683.4,468.9V442.2L683.9,441.6V482.4L684.4,473.4V440L684.9,440V488.1L685.3,466.4V442.4L685.9,442.5V478.2L686.4,474.1V441.2L686.9,441.3V483.9L687.4,482V442.4L687.9,440V473.1L688.3,480V440.9L688.9,442.6V466.6L689.4,477.4V441.9L689.9,443V470L690.4,474.9V441.8L690.9,441.7V474.7L691.3,485.5V442.6L691.9,443V470.3L692.4,471.5V442.6L692.9,441.9V482.3L693.4,470.5V443.1L693.9,442.6V471.8L694.3,475.5V442.6L694.9,442V468.7L695.4,475V441.7L695.9,442.1V469.4L696.4,479.9V441.4L696.9,439.9V486.4L697.3,467V442.5L697.9,439.9V469.9L698.4,472.5V442.2L698.9,441.5V479L699.4,485.6V442.1L699.8,441.3V467.6L700.3,484.8V440.5L700.9,440.8V486.9L701.4,470.6V441.4L701.9,441.6V472.8L702.4,498.4V442.6L702.8,440.7V481.6L703.4,468V439.9L703.9,441.4V477.8L704.4,469.6V441.5L704.9,442.6V487.1L705.4,469.4V442.3L705.8,442.1V477.1L706.4,470.4V442.5L706.9,439.8V470.3L707.4,474.2V439.8L707.9,442V474.1L708.4,497.5V442.6L708.8,442V473.3L709.4,475.2V442.5L709.9,441.6V466.2L710.4,469.8V442.5L710.9,443V474.4L711.4,475.1V441.4L711.8,442V469.3L712.4,484.2V441.1L712.9,441.6V478.8L713.4,472.2V441.3L713.9,442.1V496.1L714.4,476.4V441.4L714.9,441.7V469.2L715.4,476.1V441.4L715.9,443.4V464.4L716.4,464.8V439.7L716.9,442.3V470.4L717.4,462.3V442.8L717.9,442.1V467.1L718.4,482.4V441.1L718.9,439.7V473.4L719.4,476.3V440.4L719.9,442V469.5L720.4,469.5V440.4L720.9,442.9V498.8L721.4,476V442.7L721.9,442.4V474.2L722.4,470.4V440.6L722.9,440.9V464.5L723.4,479.2V442.5L723.9,441V477.3L724.4,464.5V440.7L724.9,442.3V478L725.4,485V441.1L725.9,441.8V469.2L726.4,470.7V442.7L726.9,441.5V480.5L727.4,470.7V441.6L727.9,440V467L728.4,471.2V441.4L728.9,440.3V466.3L729.4,464.7V441.7L729.9,440.9V468.3L730.4,471.2V439.6L730.9,443V470L731.4,467.4V441.6L731.9,441.7V474.7L732.4,481.9V440.6L732.9,443.1V468.8L733.4,476.1V441.3L733.9,442V483.8L734.4,474V441.6L734.9,440.8V475.8L735.4,477.9V441.1L735.9,442.1V474.3L736.4,477.8V442.2L736.9,440.2V477.1L737.4,463.5V441.5L737.9,439.6V482.8L738.4,473.4V441L738.9,442.1V478.6L739.4,465.9V442.3L739.9,441.9V496.1L740.4,473.9V440.6L740.9,441.5V467.2L741.4,472.9V441.3L741.9,441.2V491.1L742.4,470.7V442.2L742.9,441.8V471.2L743.4,468.9V441.9L743.9,439.5V481.5L744.4,465V443.1L744.9,439.5V475L745.4,473.3V442.3L745.9,441.3V474.8L746.4,461.6V442L746.9,441.9V477.9L747.4,468.4V440.5L747.9,440.8V464.6L748.4,473.2V440.5L748.9,442.1V473.1L749.4,481.6V442.1L749.9,440.5V470.6L750.4,470.6V442.3L750.9,439.6V469.2L751.4,467.5V439.4L751.9,441.3V459.8L752.4,470.5V440.7L752.9,441.7V469.3L753.4,468.4V440.9L753.9,442.8V481.3L754.4,475.1V442L754.9,441.4V475.7L755.4,469.1V441.3L755.9,439.4V464.4L756.4,481.7V439.4L756.9,442.3V466L757.4,469.8V441.8L757.9,442.4V472L758.4,481.3V441.7L758.9,439.4V471.9L759.4,464.6V441.1L759.9,442.6V473.8L760.4,472V441.2L760.9,439.4V466.7L761.4,471.5V439.3L761.9,439.4V470.6L762.4,479.3V440.4L762.9,441.8V467.1L763.4,473.3V439.5L763.9,441.7V471.2L764.4,482.4V439.7L764.9,442.6V475.1L765.4,477.3V442.5L765.9,440.2V472.4L766.4,477.3V442.2L766.9,441.3V471.7L767.4,477.7V441.6L767.9,441.7V471.3L768.4,475.5V441.5L768.9,441.2V477.6L769.4,485.3V440L769.9,440.8V469.2L770.4,474.3V439.4L770.9,439.9V481.9L771.4,486.3V442.1L771.9,441.3V467L772.4,476.5V441.1L772.9,441.7V472.1L773.4,473.2V441L773.9,439.2V467.5L774.4,472.9V441.8L774.9,440.2V474.3L775.4,484.8V439.2L775.9,441.7V476.7L776.4,467.5V439.8L776.9,441.9V465.8L777.4,481.3V439.2L777.9,441.6V479.1L778.4,471.4V441.6L778.9,439.4V465.6L779.4,483.9V441.6L779.9,441.8V467L780.4,490.8V441.5L780.9,440.6V478.2L781.4,475.9V442.6L781.9,441.9V465.7L782.4,473.7V442.1L782.9,441V467.7L783.4,486.7V442.3L783.9,439.1V468.3L784.4,475.2V441.1L784.9,440.7V465.1L785.4,466.1V441.8L785.9,440.4V474.1L786.4,472.4V442.5L786.9,442.2V465.8L787.4,483.4V439.2L787.9,441.7V480L788.4,483.3V441L788.9,440.9V467.8L789.4,487.8V441.8L789.9,440.7V470.3L790.4,469.7V441.6L790.9,440.5V466.7L791.4,471.3V441.6L791.9,441.1V466.3L792.4,465.8V441L792.9,442.5V472.9L793.4,465.5V442L793.9,442.1V474.1L794.4,470.1V441.1L794.9,440.8V471L795.4,466.1V439L795.9,441.3V468.8L796.4,466.1V441.7L796.9,439V479.8L797.4,471.8V440.8L797.9,439V466.4L798.4,470.7V441.3L798.9,442.1V465.5L799.4,487.8V441L799.9,439V472.7L800.4,465.7V442.1L800.9,440.9V470.7L801.4,476.7V439.6L801.9,441.6V465.1L802.4,469V439.9L802.9,442.1V472.1L803.4,488.8V441.3L803.9,441.7V471.6L804.4,473.7V439L804.9,440.6V469.6L805.4,471.5V441.4L805.9,438.9V469.6L806.4,473.1V440.7L806.9,441.2V481.1L807.4,482.3V440.2L807.9,440.3V480.2L808.4,465.7V438.9L808.9,442V473.9L809.4,469.1V439.3L809.9,440.4V471.6L810.4,464.2V441.7L810.9,441V476.4L811.4,472.1V442L811.9,439.4V465.9L812.4,465.5V441.8L812.9,441.5V476.1L813.4,478.4V440.1L813.9,439.9V477.3L814.4,466.1V441.5L814.9,441.6V475.5L815.4,519.4V442.2L815.9,441.9V468.8L816.4,466.6V439.2L816.9,441.5V477.8L817.4,481.2V441L817.9,439.9V469L818.4,473.6V438.8L818.9,439.3V466.7L819.4,490.1V438.8L819.9,439.5V471.8L820.4,470.4V441.1L820.9,440.3V470.3L821.4,468V440.1L821.9,440.9V473.2L822.4,495.4V440.4L822.9,438.8V475.4L823.4,470.2V441.1L823.9,438.8V469.1L824.4,466.5V438.8L824.9,440.4V472.2L825.4,478.2V438.8L825.9,439.9V482.2L826.4,465.2V440L826.9,441.7V474L827.4,493.3V439.9L827.9,441.5V478.8L828.4,475V439.8L828.9,441.9V471.4L829.4,488.1V439.2L829.9,441.4V472.7L830.4,470.1V439.3L830.9,439V462.5L831.4,478.9V441.7L831.9,441.6V470.8L832.4,473.8V438.7L832.9,438.7V469.8L833.4,475.2V441.7L833.9,440.2V470.4L834.4,469.7V440.9L834.9,441.8V471.8L835.4,475.6V439.3L835.9,440.1V469.9L836.4,481.4V441.8L836.9,440.7V466.6L837.4,476.2V440.8L837.9,438.7V475.3L838.4,478.4V438.7L838.9,441.2V471.4L839.4,471.8V439.7L839.9,440.1V470.5L840.4,474.1V440.7L840.9,440.3V468.9L841.4,467.7V440.8L841.9,441.9V482.2L842.4,475.7V439.7L842.9,439.5V475.7L843.4,484.1V438.6L843.9,440.5V469L844.4,481.9V441.7L844.9,438.6V473L845.4,463.9V441.1L845.9,441.4V466.9L846.4,469V441.4L846.9,440.2V471.1L847.4,480.3V440.8L847.9,439.9V468L848.4,497.5V441.6L848.9,442V469.1L849.4,479.9V438.6L849.9,441.6V466.1L850.4,482.7V440.8L850.9,442V471L851.4,472V438.9L851.9,439.2V474L852.4,478V440.2L852.9,441.3V466.7L853.4,474.9V439.4L853.9,441.6V473.5L854.4,473.3V440.5L854.9,440.9V466.7L855.4,475.7V438.5L855.9,438.5V464.2L856.4,464.2V439.2L856.9,440.5V473.9L857.4,475.3V440.4L857.9,440.3V478.3L858.4,462.8V440.2L858.9,441.2V500.9L859.4,468.1V441.1L859.9,439.8V470.7L860.4,467.2V439.1L860.9,438.5V468.6L861.4,477.2V439.5L861.9,440.2V479.4L862.4,469.6V441.5L862.9,441.5V465.2L863.4,472.6V441.2L863.9,439.7V499L864.4,474.7V440.9L864.9,440.5V474.7L865.4,472.6V441.2L865.9,441V464.7L866.4,470.6V440.6L866.9,440V483.1L867.4,496.1V438.4L867.9,441.3V472.6L868.4,473.8V440.8L868.9,438.4V463.3L869.4,480.1V438.8L869.9,438.4V477.6L870.4,475.6V440.2L870.9,440.9V468L871.4,471.7V441L871.9,439.3V474.2L872.4,468.2V438.4L872.9,440V477.9L873.4,498.6V439.8L873.9,438.8V478.5L874.4,490V440.9L874.9,440.1V490L875.4,481.5V440.1L875.9,438.4V468L876.4,474.5V440.7L876.9,441.2V470.3L877.4,466.5V441.3L877.9,440.8V469L878.4,467.7V441.5L878.9,440.8V486L879.4,464.8V440.1L879.9,440.4V482.7L880.4,475V439.9L880.9,440.2V477"/>
</g>
<path d="M201.8,528.8v4.8M335.6,528.8v4.8M469.6,528.8v4.8M602.9,528.8v4.8M737.3,528.8v4.8M870.8,528.8v4.8M154.5,373.2h-4.3M154.5,414.2h-4.3M154.5,455.2h-4.3M154.5,496.1h-4.3" stroke="#1c1c1c" stroke-width="1.07" fill="none"/>
<rect x="154.5" y="335.7" width="762.9" height="193.1" fill="none" stroke="#1c1c1c" stroke-width="1.07"/>
<text transform="translate(201.35,553.24) scale(1,1.08)" text-anchor="middle" font-size="19.6">0</text>
<text transform="translate(335.1,553.24) scale(1,1.08)" text-anchor="middle" font-size="19.6">20</text>
<text transform="translate(469.1,553.24) scale(1,1.08)" text-anchor="middle" font-size="19.6">40</text>
<text transform="translate(602.4,553.24) scale(1,1.08)" text-anchor="middle" font-size="19.6">60</text>
<text transform="translate(736.8,553.24) scale(1,1.08)" text-anchor="middle" font-size="19.6">80</text>
<text transform="translate(870.3,553.24) scale(1,1.08)" text-anchor="middle" font-size="19.6">100</text>
<text transform="translate(145,380.56) scale(1,0.995)" text-anchor="end" font-size="19.9">10<tspan font-size="14.4" dx="-1" dy="-7.8">8</tspan></text>
<text transform="translate(145,421.54) scale(1,0.995)" text-anchor="end" font-size="19.9">10<tspan font-size="14.4" dx="-1" dy="-7.8">5</tspan></text>
<text transform="translate(145,462.52) scale(1,0.995)" text-anchor="end" font-size="19.9">10<tspan font-size="14.4" dx="-1" dy="-7.8">2</tspan></text>
<text transform="translate(145,503.5) scale(1,0.995)" text-anchor="end" font-size="19.9">10<tspan font-size="14.4" dx="-1" dy="-7.8">−1</tspan></text>
<text transform="translate(162.5,364.8)" font-size="29.5">d)</text>
</g>
<g id="panel-e">
<clipPath id="c11"><rect x="998.6" y="335.7" width="200.4" height="193.1"/></clipPath>
<path d="M998.6,335.7V528.8M1098.8,335.7V528.8M1199,335.7V528.8M998.6,373.2H1199M998.6,414.2H1199M998.6,455.2H1199M998.6,496.1H1199" stroke="#b0b0b0" stroke-width="1.15" fill="none"/>
<g clip-path="url(#c11)" fill="none" stroke="#ff7f0e" stroke-width="2.25" stroke-linejoin="round" stroke-linecap="butt">
<path d="M997.6,450.1 997.9,461.1 998.2,453.9 998.6,460.7 998.9,449.8 999.2,465.8 999.5,454.6 999.9,463.6 1000.2,449.6 1000.5,461 1000.8,449.6 1001.2,463 1001.5,452.5 1001.8,464 1002.1,450.4 1002.4,463.7 1002.8,451.9 1003.1,462.1 1003.4,451.8 1003.7,457.2 1004.1,452 1004.4,461.1 1004.7,452.6 1005,460.5 1005.4,453.3 1005.7,465.4 1006,452.8 1006.3,460.9 1006.7,452.5 1007,466.1 1007.3,454.7 1007.6,465.9 1007.9,452.6 1008.3,464.3 1008.6,450.8 1008.9,467.4 1009.2,452.1 1009.6,468.3 1009.9,449.6 1010.2,472.4 1010.5,474.7 1010.9,465.1 1011.2,456.7 1011.5,466.3 1011.8,453.3 1012.1,464.4 1012.5,451.1 1012.8,469 1013.1,449.6 1013.4,465.8 1013.8,450.3 1014.1,465.6 1014.4,450.4 1014.7,465.1 1015.1,454.6 1015.4,469.7 1015.7,474.3 1016,469.9 1016.4,455.6 1016.7,464.5 1017,453.6 1017.3,461.4 1017.6,456.3 1018,460.6 1018.3,454.3 1018.6,461.1 1018.9,454.6 1019.3,459.9 1019.6,455.3 1019.9,457.9 1020.2,452.8 1020.6,459.9 1020.9,452.9 1021.2,459.1 1021.5,453.3 1021.8,461.7 1022.2,465.4 1022.5,462.7 1022.8,451.6 1023.1,457.3 1023.5,451.5 1023.8,458.1 1024.1,453.2 1024.4,458.1 1024.8,451.9 1025.1,460.5 1025.4,450.5 1025.7,461.1 1026.1,448.9 1026.4,461.4 1026.7,448.4 1027,464 1027.3,449.2 1027.7,462 1028,449.3 1028.3,462.9 1028.6,452.7 1029,462.2 1029.3,454.5 1029.6,462.1 1029.9,450.5 1030.3,460.3 1030.6,456.1 1030.9,465.7 1031.2,454.6 1031.5,467.1 1031.9,454.9 1032.2,468.9 1032.5,455 1032.8,468.5 1033.2,455.2 1033.5,468.1 1033.8,458.4 1034.1,463.8 1034.5,459.4 1034.8,465 1035.1,456.7 1035.4,473.7 1035.8,464 1036.1,478.5 1036.4,457.5 1036.7,478 1037,456.4 1037.4,474.6 1037.7,455.8 1038,468.6 1038.3,463.2 1038.7,476.2 1039,454.2 1039.3,474.1 1039.6,452.2 1040,473 1040.3,451.1 1040.6,463 1040.9,451.2 1041.2,463.6 1041.6,453.8 1041.9,466.6 1042.2,454.5 1042.5,465.9 1042.9,459.4 1043.2,470.7 1043.5,457.5 1043.8,469.8 1044.2,458.9 1044.5,469 1044.8,458.2 1045.1,463.5 1045.5,452.8 1045.8,450.3 1046.1,459.7 1046.4,469.7 1046.7,455.9 1047.1,469.3 1047.4,457.1 1047.7,473.9 1048,459.4 1048.4,476 1048.7,462.7 1049,477.1 1049.3,454.8 1049.7,480.8 1050,456.1 1050.3,464.5 1050.6,457.8 1050.9,467.6 1051.3,458.1 1051.6,465.7 1051.9,453.6 1052.2,464.7 1052.6,456.9 1052.9,463.4 1053.2,453.5 1053.5,462 1053.9,452.8 1054.2,461 1054.5,451 1054.8,460.5 1055.2,450.4 1055.5,461.9 1055.8,452.3 1056.1,463.9 1056.4,457.1 1056.8,464.6 1057.1,458.7 1057.4,472.7 1057.7,478.8 1058.1,469.1 1058.4,455.4 1058.7,466.3 1059,456.5 1059.4,466.7 1059.7,453.9 1060,468.5 1060.3,452.1 1060.6,465 1061,456.1 1061.3,467.4 1061.6,452.3 1061.9,468.8 1062.3,450.9 1062.6,467.9 1062.9,450.8 1063.2,461.9 1063.6,453.4 1063.9,467.6 1064.2,451.7 1064.5,468.1 1064.9,457.7 1065.2,465.9 1065.5,450.6 1065.8,473.2 1066.1,474.7 1066.5,468.1 1066.8,451.6 1067.1,461.7 1067.4,456.1 1067.8,463.8 1068.1,454.2 1068.4,460.6 1068.7,450.7 1069.1,460.5 1069.4,448.3 1069.7,464.8 1070,453.7 1070.3,464.1 1070.7,447 1071,462.1 1071.3,448.1 1071.6,462.9 1072,449.6 1072.3,461.8 1072.6,453.4 1072.9,469.8 1073.3,477.1 1073.6,472.1 1073.9,456.5 1074.2,467.5 1074.6,456.9 1074.9,466 1075.2,450.4 1075.5,460.1 1075.8,453.3 1076.2,461.4 1076.5,451.8 1076.8,461.5 1077.1,454.2 1077.5,463.7 1077.8,452.1 1078.1,479.6 1078.4,451.3 1078.8,467.9 1079.1,455.4 1079.4,464.3 1079.7,453 1080,460.6 1080.4,454 1080.7,462.4 1081,450.3 1081.3,461.4 1081.7,451 1082,461 1082.3,452.3 1082.6,462.2 1083,452.5 1083.3,464.7 1083.6,450.8 1083.9,462.6 1084.3,449.5 1084.6,465.7 1084.9,453.8 1085.2,466.6 1085.5,451.5 1085.9,467.7 1086.2,456.2 1086.5,468.6 1086.8,455.4 1087.2,469.9 1087.5,459.6 1087.8,468.6 1088.1,453.1 1088.5,469 1088.8,452.3 1089.1,463.9 1089.4,451.7 1089.7,466.5 1090.1,455.2 1090.4,465.8 1090.7,449.5 1091,458.8 1091.4,449.5 1091.7,457.2 1092,449.1 1092.3,455.1 1092.7,450.5 1093,455.9 1093.3,451.2 1093.6,460.9 1094,448.2 1094.3,453.5 1094.6,446.6 1094.9,454.2 1095.2,446.3 1095.6,455.1 1095.9,446.4 1096.2,457.1 1096.5,445.5 1096.9,462 1097.2,441.4 1097.5,464.9 1097.8,439.2 1098.2,455.3 1098.5,445.5 1098.8,464.1 1099.1,436.5 1099.4,466.8 1099.8,498.5 1100.1,490 1100.4,448.2 1100.7,463.6 1101.1,446.6 1101.4,458.5 1101.7,442.9 1102,461.6 1102.4,450.1 1102.7,461.5 1103,450 1103.3,457.3 1103.6,448 1104,456.3 1104.3,450 1104.6,460.1 1104.9,452.3 1105.3,459.9 1105.6,452.8 1105.9,464 1106.2,454.2 1106.6,464 1106.9,456.3 1107.2,462.7 1107.5,454.4 1107.9,461 1108.2,453.5 1108.5,463 1108.8,456.7 1109.1,464.4 1109.5,452.9 1109.8,466 1110.1,452.9 1110.4,464.7 1110.8,457.7 1111.1,463.8 1111.4,457 1111.7,468.2 1112.1,457.2 1112.4,464.6 1112.7,450.5 1113,465.3 1113.3,453.5 1113.7,470.2 1114,455.7 1114.3,475.4 1114.6,480.1 1115,473.2 1115.3,456.9 1115.6,466.6 1115.9,460.2 1116.3,469 1116.6,457.4 1116.9,470.3 1117.2,456.5 1117.6,465.3 1117.9,454.3 1118.2,467.9 1118.5,452.3 1118.8,463.9 1119.2,450.2 1119.5,448 1119.8,453.8 1120.1,460 1120.5,454.1 1120.8,463.1 1121.1,457.1 1121.4,465.1 1121.8,455.7 1122.1,465.3 1122.4,459.2 1122.7,469.6 1123,478.5 1123.4,474.8 1123.7,455.6 1124,465.6 1124.3,453.6 1124.7,468.2 1125,454.1 1125.3,467.9 1125.6,455.9 1126,466.1 1126.3,455.4 1126.6,461.5 1126.9,451.8 1127.3,463.6 1127.6,452.2 1127.9,460.8 1128.2,453.2 1128.5,458.7 1128.9,454.6 1129.2,460.6 1129.5,452.7 1129.8,461.3 1130.2,452.4 1130.5,462.7 1130.8,452.2 1131.1,470.8 1131.5,452.5 1131.8,463 1132.1,452.6 1132.4,460.6 1132.7,452.8 1133.1,463.1 1133.4,454.9 1133.7,461 1134,456.3 1134.4,465 1134.7,452 1135,465.7 1135.3,471.2 1135.7,464.1 1136,452.3 1136.3,463.8 1136.6,451.4 1137,463 1137.3,451.5 1137.6,463.4 1137.9,456.9 1138.2,465.1 1138.6,468.7 1138.9,462.9 1139.2,455.9 1139.5,463.6 1139.9,454.2 1140.2,462.7 1140.5,452.4 1140.8,463.7 1141.2,453.2 1141.5,466.5 1141.8,453 1142.1,472.1 1142.4,456.6 1142.8,471.6 1143.1,453.9 1143.4,467.1 1143.7,453.1 1144.1,467.8 1144.4,454.6 1144.7,470.5 1145,454.3 1145.4,469 1145.7,456.8 1146,480.9 1146.3,452 1146.7,474.9 1147,450.9 1147.3,475.1 1147.6,451.8 1147.9,471.1 1148.3,454.5 1148.6,468.5 1148.9,454.5 1149.2,465.6 1149.6,455.9 1149.9,464.6 1150.2,453.6 1150.5,462.5 1150.9,453.7 1151.2,466.7 1151.5,454.4 1151.8,466.6 1152.1,452.8 1152.5,465.7 1152.8,456.9 1153.1,465.2 1153.4,457.5 1153.8,464.6 1154.1,456.1 1154.4,462.2 1154.7,456.2 1155.1,465.3 1155.4,455.7 1155.7,472.2 1156,477.3 1156.4,467.9 1156.7,452.9 1157,467.4 1157.3,451 1157.6,466.2 1158,452.5 1158.3,464.4 1158.6,450.5 1158.9,457.3 1159.3,451.2 1159.6,458.4 1159.9,452.4 1160.2,458.7 1160.6,448 1160.9,461 1161.2,449.4 1161.5,464.1 1161.8,452.3 1162.2,462.3 1162.5,452.4 1162.8,468.4 1163.1,453 1163.5,465.5 1163.8,452.7 1164.1,462.9 1164.4,455.8 1164.8,466.7 1165.1,454.1 1165.4,468.5 1165.7,453.1 1166.1,468.1 1166.4,453.8 1166.7,467.1 1167,455.5 1167.3,469.5 1167.7,459.4 1168,467.7 1168.3,458.1 1168.6,466.9 1169,452.6 1169.3,464.9 1169.6,455.9 1169.9,467.6 1170.3,453.7 1170.6,461 1170.9,450.2 1171.2,463.5 1171.5,451.3 1171.9,462.6 1172.2,452.9 1172.5,463.1 1172.8,454.6 1173.2,463.8 1173.5,456.1 1173.8,479.7 1174.1,455.5 1174.5,470.6 1174.8,455.4 1175.1,467.6 1175.4,452.8 1175.8,463.1 1176.1,453.2 1176.4,461.5 1176.7,453.8 1177,462.9 1177.4,458.3 1177.7,469.7 1178,453.8 1178.3,465.4 1178.7,450.9 1179,481.3 1179.3,446 1179.6,469 1180,455.8 1180.3,464.7 1180.6,454.7 1180.9,467.3 1181.2,451.4 1181.6,468 1181.9,452.1 1182.2,462 1182.5,458.3 1182.9,465.4 1183.2,457.6 1183.5,468.4 1183.8,459.4 1184.2,478.5 1184.5,451.6 1184.8,465.9 1185.1,451.5 1185.5,465.3 1185.8,457.5 1186.1,465 1186.4,459.7 1186.7,464 1187.1,455.9 1187.4,461.7 1187.7,455.3 1188,466.2 1188.4,451.7 1188.7,475.2 1189,478.9 1189.3,471.7 1189.7,451.7 1190,469.8 1190.3,451.2 1190.6,467.9 1190.9,456.5 1191.3,464.1 1191.6,451.7 1191.9,462.2 1192.2,454 1192.6,460.8 1192.9,453.9 1193.2,459.8 1193.5,453.2 1193.9,460.1 1194.2,453.4 1194.5,461.2 1194.8,454 1195.2,460.5 1195.5,455.2 1195.8,461.5 1196.1,452 1196.4,459 1196.8,451.3 1197.1,462 1197.4,456 1197.7,462.6 1198.1,454.1 1198.4,462.7 1198.7,450.8 1199,467.8 1199.4,453.1 1199.7,462.8 1200,451.5"/>
</g>
<path d="M998.6,528.8v4.8M1098.8,528.8v4.8M1199,528.8v4.8M998.6,373.2h-4.3M998.6,414.2h-4.3M998.6,455.2h-4.3M998.6,496.1h-4.3" stroke="#1c1c1c" stroke-width="1.07" fill="none"/>
<rect x="998.6" y="335.7" width="200.4" height="193.1" fill="none" stroke="#1c1c1c" stroke-width="1.07"/>
<text transform="translate(998.1,553.24) scale(1,1.08)" text-anchor="middle" font-size="19.6">49.5</text>
<text transform="translate(1098.3,553.24) scale(1,1.08)" text-anchor="middle" font-size="19.6">50.0</text>
<text transform="translate(1198.5,553.24) scale(1,1.08)" text-anchor="middle" font-size="19.6">50.5</text>
<text transform="translate(989.1,380.56) scale(1,0.995)" text-anchor="end" font-size="19.9">10<tspan font-size="14.4" dx="-1" dy="-7.8">8</tspan></text>
<text transform="translate(989.1,421.54) scale(1,0.995)" text-anchor="end" font-size="19.9">10<tspan font-size="14.4" dx="-1" dy="-7.8">5</tspan></text>
<text transform="translate(989.1,462.52) scale(1,0.995)" text-anchor="end" font-size="19.9">10<tspan font-size="14.4" dx="-1" dy="-7.8">2</tspan></text>
<text transform="translate(989.1,503.5) scale(1,0.995)" text-anchor="end" font-size="19.9">10<tspan font-size="14.4" dx="-1" dy="-7.8">−1</tspan></text>
<text transform="translate(1007.6,364.8)" font-size="29.5" letter-spacing="0.5">e)</text>
</g>
<g id="panel-f">
<clipPath id="c12"><rect x="1280" y="335.7" width="200.5" height="193.1"/></clipPath>
<path d="M1280,335.7V528.8M1380.5,335.7V528.8M1480.5,335.7V528.8M1280,373.2H1480.5M1280,414.2H1480.5M1280,455.2H1480.5M1280,496.1H1480.5" stroke="#b0b0b0" stroke-width="1.15" fill="none"/>
<g clip-path="url(#c12)" fill="none" stroke="#ff7f0e" stroke-width="2.25" stroke-linejoin="round" stroke-linecap="butt">
<path d="M1278,456.6 1280,456.6 1281.5,457.4 1283.1,467.2 1284.9,462.5 1286.5,477.7 1288.4,478.9 1290,463.9 1291.6,453.6 1293,453.8 1294.9,450.8 1296.3,453.4 1297.9,466.4 1299.5,457.4 1301.1,461.5 1302.6,470.6 1304.2,459.5 1305.8,471.6 1307.4,455.8 1309.1,452.4 1310.7,457.9 1312.3,486.7 1313.9,478.9 1315.6,456.6 1317.2,454.9 1318.8,453.6 1320.4,475.7 1322.1,457.4 1323.7,459.5 1325.3,472.1 1326.9,479.4 1328.5,455.8 1330,449.7 1331.8,458.3 1333.2,459.5 1334.9,467.6 1336.5,456.2 1338.1,458.4 1339.7,455.7 1341.1,480.6 1342.7,482.8 1344.6,476.9 1346.2,454.4 1347.6,453.8 1349.2,453.6 1350.8,452.6 1352.5,466.5 1354.1,463.1 1355.7,459.1 1357.3,459.5 1359,461.1 1360.3,462.7 1362,456 1363.4,483 1365.2,460.7 1366.8,466.4 1368.5,455.8 1370.1,452.7 1371.7,462.3 1373.3,462.5 1375.2,457.6 1376.8,458.7 1378.2,460.3 1379.8,464.1 1381.4,460.7 1382.9,451.8 1383,451 1384.5,438.4 1386.1,444.5 1387.7,457.4 1389.4,470.8 1391,463.1 1392.6,454.6 1394.2,456.6 1395.7,454.2 1397.3,468 1398.9,459.1 1400.6,458.7 1402.2,461.1 1403.8,463.1 1405.4,457 1407,451.8 1408.7,464.7 1410.3,463.1 1411.9,460.7 1413.5,464.7 1415.2,462.3 1416.6,472.1 1418.4,457 1420,458.7 1421.5,474.9 1423.1,470 1424.7,469.6 1426.3,453.8 1427.9,463.1 1429.5,470 1431.1,459.1 1432.8,450.6 1434.4,468 1436,459.9 1437.6,450.1 1439.5,463.5 1441.1,462.5 1443.5,459.9 1445.3,471.2 1447.1,459.1 1448.7,462.7 1450.4,463.9 1452,467.6 1453.6,470 1455.2,460.7 1456.8,453.8 1458.5,455.4 1460.1,456.2 1461.7,457.4 1463,462.5 1464.6,457 1466,459.9 1467.6,457.4 1469.5,470.4 1471.3,479.4 1472.9,468 1474.5,463.9 1476.2,461.5 1477.6,466 1479.2,455.4 1480.4,455.8 1482.5,455.8"/>
</g>
<path d="M1280,528.8v4.8M1380.5,528.8v4.8M1480.5,528.8v4.8M1280,373.2h-4.3M1280,414.2h-4.3M1280,455.2h-4.3M1280,496.1h-4.3" stroke="#1c1c1c" stroke-width="1.07" fill="none"/>
<rect x="1280" y="335.7" width="200.5" height="193.1" fill="none" stroke="#1c1c1c" stroke-width="1.07"/>
<text transform="translate(1279.5,553.24) scale(1,1.08)" text-anchor="middle" font-size="19.6">65.0</text>
<text transform="translate(1380,553.24) scale(1,1.08)" text-anchor="middle" font-size="19.6">65.1</text>
<text transform="translate(1480,553.24) scale(1,1.08)" text-anchor="middle" font-size="19.6">65.2</text>
<text transform="translate(1270.5,380.56) scale(1,0.995)" text-anchor="end" font-size="19.9">10<tspan font-size="14.4" dx="-1" dy="-7.8">8</tspan></text>
<text transform="translate(1270.5,421.54) scale(1,0.995)" text-anchor="end" font-size="19.9">10<tspan font-size="14.4" dx="-1" dy="-7.8">5</tspan></text>
<text transform="translate(1270.5,462.52) scale(1,0.995)" text-anchor="end" font-size="19.9">10<tspan font-size="14.4" dx="-1" dy="-7.8">2</tspan></text>
<text transform="translate(1270.5,503.5) scale(1,0.995)" text-anchor="end" font-size="19.9">10<tspan font-size="14.4" dx="-1" dy="-7.8">−1</tspan></text>
<text transform="translate(1289,364.8)" font-size="29.5" letter-spacing="0.5">f)</text>
</g>
<g id="panel-g">
<clipPath id="c20"><rect x="154.5" y="577.2" width="762.9" height="192.2"/></clipPath>
<path d="M201.8,577.2V769.4M335.6,577.2V769.4M469.6,577.2V769.4M602.9,577.2V769.4M737.3,577.2V769.4M870.8,577.2V769.4M154.5,613.6H917.4M154.5,654.6H917.4M154.5,695.6H917.4M154.5,737.5H917.4" stroke="#b0b0b0" stroke-width="1.15" fill="none"/>
<g clip-path="url(#c20)" fill="none" stroke="#2ca02c" stroke-width="2.25" stroke-linejoin="round" stroke-linecap="butt">
<path d="M201.3,660V584.6L201.8,610.3V664.1L202.3,653.8V619.4L202.8,624.8V664.2L203.3,672V627.6L203.8,632.5V659.6L204.3,678.4V639.2L204.8,642.4V676L205.3,690.1V645.9L205.8,647.3V666.9L206.3,673.5V650.8L206.8,651.5V680.4L207.3,671.7V652.8L207.8,655.5V675.4L208.3,670.9V656L208.8,657.4V681.6L209.3,674.4V660.1L209.8,659.5V678.6L210.3,671.5V661.1L210.8,661.6V671.4L211.3,675.1V662.8L211.8,663.3V674.6L212.3,673.7V665.5L212.8,667.7V673.8L213.3,677.3V668.2L213.8,668.7V675.7L214.3,674.5V671.4L214.8,672.7V675.3L215.3,683.3V672.6L215.8,670.8V674.4L216.3,676.1V671.1L216.8,672.8V676.3L217.3,677.5V671.8L217.8,672.6V678.1L218.3,676.7V674.4L218.8,675.4V677.3L219.3,679.2V674.2L219.8,674.7V677.6L220.3,678V675.4L220.8,676V679.5L221.3,678.6V675.8L221.8,675.9V680.7L222.3,680.6V676.6L222.8,676.7V679.5L223.3,680.5V676.5L223.8,675.3V680.9L224.3,681.5V676.6L224.8,677.6V682L225.3,682.4V677.8L225.8,677.5V681.9L226.3,682V678.3L226.8,678.5V683.6L227.3,682V677.9L227.8,679.2V684L228.3,683.9V678.3L228.8,678.8V682.2L229.3,683.5V678L229.8,678V684.6L230.3,683.9V678.4L230.8,678.5V684.8L231.3,685.3V679.5L231.8,678.9V682.9L232.3,685.9V679.9L232.8,679.5V684L233.3,684.8V680.2L233.8,680.1V685.6L234.3,684.2V681.3L234.8,680.9V685.2L235.3,687.6V678.4L235.8,681.1V686.1L236.3,685.8V680L236.8,680.2V686.5L237.3,687.1V680.1L237.8,680.9V687.3L238.3,687.6V680.7L238.8,682.3V687.3L239.3,685.4V682.4L239.8,682V686.4L240.3,687.8V682.3L240.8,682.5V687L241.3,689.8V682.5L241.8,681.5V688.2L242.3,687.8V682.5L242.8,680V689.9L243.3,689V681.4L243.8,681.9V689.4L244.3,691.8V681.5L244.8,682.8V687.9L245.3,690.5V680.4L245.8,681.2V690L246.3,694.7V681.8L246.8,682.6V690.5L247.3,691V681.4L247.8,682V689.5L248.3,694.2V682.3L248.8,681.1V689.8L249.3,693.2V682.6L249.8,683.4V690.4L250.3,690.9V683L250.8,683.9V691.7L251.3,692.9V684L251.8,682.7V692.6L252.3,691.9V682.5L252.8,681.6V693.3L253.3,696.5V682.3L253.8,683.5V692.2L254.3,692.4V684.8L254.8,683.8V694.6L255.3,695.2V682L255.8,683V691.8L256.4,694.6V684.1L256.9,684.3V697.5L257.4,692.4V685L257.8,685.2V695.7L258.4,694.9V685.6L258.9,682.9V694.2L259.3,694.7V684.2L259.9,685.6V696.4L260.4,696.4V685L260.9,686.2V695L261.4,697.8V685.7L261.8,684.4V693.2L262.4,696.7V684.7L262.9,685.3V697.9L263.3,697.7V685.9L263.9,685V697.7L264.4,693.7V683.6L264.9,685.8V696.3L265.4,694.9V686.9L265.9,687V694.6L266.4,699.7V687L266.9,684V695.8L267.4,694.9V685.9L267.9,684.9V698.3L268.4,694.4V687L268.9,686.8V696.7L269.4,697V685.7L269.9,684.7V693.6L270.4,699.6V686.8L270.9,687.7V695.1L271.4,699.3V685.2L271.9,687.1V697.5L272.4,702.1V685.9L272.9,687.6V699L273.4,700V686.2L273.9,685.6V697L274.4,695V686.3L274.9,687.4V701.6L275.4,703.7V686.4L275.9,688.1V698.2L276.4,695.8V687.6L276.9,687.4V696.2L277.4,697.3V685.8L277.9,688.3V698.3L278.4,699.3V685.9L278.9,686.5V707.9L279.4,697.2V685.7L279.9,687.9V699.8L280.4,700.5V688.4L280.9,688.4V708.2L281.4,703.4V686.6L281.9,685.9V701.8L282.4,697.4V687.3L282.9,688V700.1L283.4,699.8V688.5L283.9,686.9V702L284.4,699.8V686.6L284.9,689.2V703.9L285.4,703.2V688.9L285.9,687.1V701.4L286.4,704.7V687L286.9,688.8V699.2L287.4,704V688.9L287.9,688.6V702.1L288.4,698.9V688.4L288.9,689.6V703.2L289.4,701.9V687.4L289.9,688.5V701.2L290.4,703V687.8L290.9,689.4V704.7L291.4,702.6V686.9L291.9,688V700.8L292.4,703.6V689.3L292.9,687V712L293.4,705.3V688.4L293.9,687.8V704.1L294.4,699.8V690.4L294.9,690.4V709.2L295.4,700.4V688.4L295.9,689.7V710.1L296.4,701.5V689.2L296.9,690.2V704.8L297.4,702.5V687.4L297.9,689.4V706.5L298.4,707.4V688.3L298.9,690.6V709.4L299.4,715.9V689.6L299.9,690.8V705.4L300.4,711.8V688.1L300.9,689.8V706.5L301.4,701.8V690.9L301.9,690.9V703.3L302.4,705.6V689.7L302.9,691V714.4L303.4,712.4V690.6L303.9,690V700L304.4,706V689.9L304.9,689.7V705L305.4,704V689.7L305.9,690.3V705.1L306.4,704.1V689.7L306.9,691V705.8L307.4,706.5V690.7L307.9,689.2V707L308.4,703.3V691.1L308.9,690.9V701.5L309.3,708.1V690.9L309.9,690.4V710.5L310.4,703.2V692.4L310.9,691.8V709.7L311.4,705.7V690.5L311.9,691.3V710.7L312.4,707V690L312.9,689.6V709.9L313.4,717.1V690.4L313.9,690V719.5L314.3,710.6V690.9L314.9,692V708.9L315.4,709.3V690.9L315.8,691.1V709.4L316.4,708.9V690.5L316.9,691.8V714.5L317.3,707.8V691.5L317.9,689.8V721.5L318.4,710.1V691.5L318.9,691.2V710L319.4,715.5V689.1L319.9,691.6V720.5L320.4,713.1V692L320.9,690.5V710.8L321.4,716.5V691L321.9,690.9V711.9L322.3,710.7V692.6L322.9,691.5V710.1L323.4,708.3V693.1L323.8,691.9V710.5L324.4,715.5V690.7L324.9,692.6V713.3L325.3,711.8V691.9L325.9,689.6V710.7L326.4,712.2V689.6L326.9,691.6V712.6L327.4,706.8V690.8L327.9,691.2V709.8L328.4,706.6V691.7L328.9,690.3V716.8L329.4,710.1V692.5L329.9,690.6V712.3L330.4,714.4V693.1L330.9,690.4V722.3L331.4,707.8V691.3L331.9,692V730.7L332.4,708.9V691.4L332.9,692V714.2L333.4,708.7V691.1L333.9,693V724.9L334.4,723.8V692L334.9,690.6V714.3L335.4,711.8V690.2L335.9,692.8V711.5L336.4,716.2V692.7L336.9,690.4V711.8L337.4,714.7V692.5L337.9,693.4V719L338.4,720.5V691.6L338.9,692.4V717.5L339.4,708.9V691.5L339.9,692.3V717.1L340.4,713.4V692.3L340.9,692.5V720.6L341.4,706.5V692.8L341.9,690.7V709.2L342.4,720V691.9L342.9,691.4V718.9L343.4,709.7V690.8L343.9,693V746.8L344.4,722.9V690.6L344.9,691.1V713.6L345.4,721.3V692.5L345.9,692.3V724.7L346.4,713.4V693.5L346.9,691.7V707.8L347.4,720.5V693.4L347.9,692.5V710.7L348.4,713.7V693.5L348.9,693.8V710.7L349.4,718V692.3L349.9,692.7V717.8L350.4,714.8V692.1L350.9,691.7V720.4L351.4,718.8V690.8L351.9,693.8V723.5L352.4,711.4V692.4L352.9,692.5V716.4L353.4,723.1V692.3L353.9,692.7V710.4L354.4,721.2V692.6L354.9,691.4V729.2L355.4,716.6V692.9L355.9,692.8V714.6L356.4,716V692.3L356.9,694V714.5L357.4,717.9V693.1L357.9,694V712.3L358.4,715.4V693.9L358.9,694.9V722.4L359.4,711.5V693.7L359.9,693.7V727.5L360.4,719.3V693L360.9,692.8V715.8L361.4,709.3V691.9L361.9,693.1V719.7L362.4,723.1V691.5L362.9,693.3V715.4L363.4,713.2V692.3L363.9,693V720.9L364.4,717.7V692.8L364.9,693.7V714.9L365.4,717V691.3L365.9,692.3V712.3L366.4,724.1V694.1L366.9,693.1V713.3L367.4,729.1V691.3L367.9,694.5V721.1L368.4,713V693.7L368.9,692.5V718L369.4,711.6V694.7L369.9,692.5V716.8L370.4,714.3V693.1L370.9,692.6V723.5L371.4,718.8V693.2L371.9,691.5V735.2L372.4,722.2V693.8L372.9,693.2V719.3L373.4,716.6V694.7L373.9,693.3V711.8L374.4,718.3V693.7L374.9,691.6V728.6L375.4,720.7V691.6L375.9,694.5V722.2L376.4,723.3V694.9L376.9,694.6V719.9L377.4,722.1V694.4L377.9,692.9V714.9L378.4,720V693.5L378.9,693.6V713.3L379.4,722.5V693.8L379.9,695.4V710.1L380.4,727.8V694L380.9,691.8V717.4L381.4,727.9V692.6L381.9,693.6V724.5L382.4,714.9V694.5L382.9,691.9V718.6L383.4,721.5V694L383.9,693.5V732L384.4,713.7V694.6L384.9,694.3V717.2L385.4,734.4V694.3L385.9,694.2V721.8L386.4,719.5V695.4L386.9,693.5V747.5L387.4,730.3V694.8L387.9,693.7V717.5L388.4,713.5V693.7L388.9,693.4V722.4L389.4,734.6V694.5L389.9,694.6V720.1L390.4,715.7V693.3L390.9,694.4V715.8L391.4,715.4V695L391.9,692.4V715.8L392.4,716.7V695.8L392.9,692.6V731.4L393.4,717.4V694.7L393.9,694.5V736.5L394.4,720.1V692.3L394.9,694.4V724.3L395.4,714.3V693.6L395.9,694.5V716.2L396.4,719.3V692.5L396.9,693.6V740.9L397.4,721.5V694.3L397.9,695.4V721.8L398.4,716.8V694.7L398.9,694.4V712.3L399.4,720.4V694.9L399.9,694.3V721.2L400.4,719V695.1L400.9,694.4V719.2L401.4,718V694.4L401.9,693.9V726L402.4,721.7V693.7L402.9,693.8V715.7L403.4,739.3V694.7L403.9,694.6V722.1L404.4,728.1V693L404.9,694.8V727.1L405.4,732.6V693.8L405.9,692.6V714L406.4,719.7V692.6L406.9,694.4V717.4L407.4,717.8V695L407.9,694.2V719.2L408.4,730.3V694L408.9,694.5V721.7L409.4,724.2V695L409.9,694.7V746.5L410.4,720.7V695.8L410.9,695.1V713.7L411.4,712.5V695.5L411.9,694.2V730L412.4,716.6V692.8L412.9,695.5V739.1L413.4,729.2V696.1L413.9,693.9V729.1L414.4,725V695.1L414.9,694.7V739L415.4,727V696L415.8,695.5V733.1L416.4,718.1V694.2L416.9,694.5V715.4L417.3,720.7V693.4L417.9,692.9V733.9L418.4,726.5V695.1L418.8,694.4V731.7L419.4,711.7V694.9L419.9,694.8V721.4L420.4,728.5V695.1L420.9,692.9V720.3L421.4,726.1V694.5L421.9,695.8V719.6L422.4,748.8V694.3L422.9,693V719.6L423.4,716.6V693.2L423.9,694.7V721.5L424.4,729V696.5L424.9,693.9V722.2L425.4,720.5V693L425.9,694.2V727.6L426.4,716.1V695.1L426.9,695.2V718.8L427.3,730.8V694.2L427.9,696V717.4L428.4,717.8V694L428.8,695V720.3L429.4,721.5V696.2L429.9,693.9V721.8L430.3,732.4V695.3L430.9,696V736.9L431.4,717V695.8L431.8,693.7V723.3L432.4,739.3V695.9L432.9,694.1V719.7L433.3,715.6V694L433.9,696.2V719.2L434.4,722.8V695.2L434.8,694.1V721.5L435.4,727.3V695.1L435.9,693.7V716L436.4,720.4V695.4L436.9,694.8V735L437.4,718.1V695.8L437.9,693.9V711.1L438.4,714.7V693.9L438.9,695V719.4L439.4,720.1V695.6L439.9,695.5V711.3L440.4,717.4V694.9L440.9,696.1V724.7L441.4,716.2V695.2L441.8,695.7V714.3L442.4,723.2V695.6L442.9,695.6V724.5L443.3,721.7V694L443.9,696V730.4L444.4,717.1V695.9L444.8,696.1V742.7L445.4,718.6V696.9L445.9,695.4V725L446.3,726.9V694L446.9,693.6V717.1L447.4,712.8V695.3L447.8,695.5V725.3L448.4,715.1V693.9L448.9,695.2V729.3L449.3,724.3V695.2L449.9,694.9V725.1L450.4,720.8V696.5L450.8,694.1V725.3L451.4,727.6V696.4L451.9,695.3V720.4L452.4,723.3V693.5L452.9,695.3V719.7L453.4,722.1V695.8L453.9,694.7V724.4L454.4,722.8V693.7L454.9,695.1V717.7L455.4,719.4V696.7L455.9,693.9V725.9L456.4,723.2V697L456.9,694.9V740.4L457.4,716.6V693.8L457.9,696.3V713.9L458.4,719.1V695.4L458.9,694.9V716.6L459.4,730.5V696.3L459.9,696.1V725.7L460.4,731.7V696.7L460.9,696.4V737.5L461.4,725.3V696.5L461.9,696V722.6L462.4,718.5V694.7L462.9,695V717.2L463.4,728.4V694.7L463.9,695.1V717.2L464.4,716.4V694.6L464.9,696.5V721.6L465.4,718.9V695.4L465.9,697.1V714.9L466.4,723.1V695.6L466.9,694.4V733L467.4,730.2V695.7L467.9,696.1V722L468.4,720.7V696.2L468.9,695.9V725.4L469.4,727.1V693.8L469.9,693.7V719.3L470.4,720.3V694.9L470.9,693.7V717.6L471.4,721.4V694.8L471.9,696.2V721L472.4,723.8V695.8L472.9,695V725.6L473.4,721.7V695L473.9,695.1V722L474.4,750.2V695.7L474.9,696.6V726.1L475.4,735V693.7L475.9,696.3V721.1L476.4,732.1V693.7L476.9,696.6V723.8L477.4,713.7V693.7L477.9,695.9V716.9L478.4,720V694.6L478.9,697.4V718.7L479.4,720.7V695.8L479.9,696.3V714.7L480.4,750.9V695.1L480.9,695.2V721.6L481.4,725.5V695.7L481.9,695V726.1L482.4,715.1V693.7L482.9,696.7V718.7L483.4,727.6V695.5L483.9,695.1V722.9L484.4,720.9V695.3L484.9,696.2V722.7L485.4,726.1V694.2L485.9,696.3V736.7L486.4,720.5V694.4L486.9,695.7V720.3L487.4,726V696.6L487.9,694.5V737.1L488.4,737.5V696.8L488.9,694.7V720.6L489.4,720.5V695.4L489.9,694.2V717.5L490.4,726.1V694.6L490.9,695.9V722.5L491.4,721.4V696.6L491.9,696.2V720.2L492.4,715.5V697.6L492.9,695.2V726.3L493.4,722.2V696.8L493.9,696.4V718L494.4,717.9V696.3L494.9,695.9V730.6L495.4,729.2V695.1L495.9,695.8V726.5L496.4,728.7V695.6L496.9,696.7V729.6L497.4,717.1V696L497.9,696.4V722.5L498.4,719.7V694.9L498.9,697.2V723.3L499.4,738.7V695.3L499.9,695.1V725L500.4,730V695.6L500.9,697V728.5L501.4,719.5V696.2L501.9,696.3V725.2L502.4,722.6V696.2L502.9,696.2V729.2L503.4,750.7V693.7L503.9,694.7V729.8L504.4,734.7V694L504.9,695V716.6L505.4,746.1V696L505.9,693.7V724.2L506.4,718.5V695.7L506.9,696.4V728.2L507.4,718.7V694.9L507.9,696.2V729.1L508.4,723.5V694.5L508.9,694.9V727.6L509.4,728.3V696.1L509.9,695.7V722.6L510.4,728.9V695L510.9,695.2V721.3L511.4,714V695.6L511.9,696.3V717.7L512.4,733.4V696.1L512.9,695.1V745.4L513.4,724.1V695.7L513.9,695V718L514.4,721.1V695.1L514.9,696V718.5L515.4,722V696.7L515.9,695.1V726.3L516.4,727.3V696L516.9,695.5V721.1L517.4,720.2V696.6L517.9,696.5V719.3L518.4,731V695.8L518.9,695.1V728L519.4,743.2V696.6L519.9,694.7V730.6L520.4,725.7V694.3L520.9,695.1V719.7L521.4,716.8V694.9L521.9,696.3V719.7L522.4,722.4V696.7L522.9,696.1V723.5L523.4,731.7V696.6L523.9,695.8V721.1L524.4,728.1V694.8L524.9,696.2V722.1L525.4,723.9V694.3L525.9,695.8V724.8L526.4,721.2V696.5L526.9,695.2V733.2L527.4,724.9V695.8L527.9,696.1V734.8L528.4,726.2V695.6L528.9,693.7V724.5L529.4,719.6V694.8L529.9,696.1V729.5L530.4,722.3V693.7L530.9,696.4V719L531.4,730.9V695.9L531.9,695.9V737.1L532.4,750.2V693.7L532.9,697.5V732.6L533.4,733.4V695.2L533.9,695.6V728.9L534.4,722.7V696.5L534.9,695.2V724.7L535.4,729.1V694.6L535.9,688V740.2L536.4,720.9V696.8L536.9,694.7V728.2L537.4,730.7V696L537.9,694.3V723.7L538.4,759.8V695.5L538.9,696.8V736.3L539.4,730.8V694.9L539.9,695.5V717.5L540.4,720.1V695.8L540.9,695.3V733.5L541.4,729.2V695.8L541.9,697.1V729.1L542.4,724.6V693.9L542.9,696.2V718.5L543.4,724.2V696.2L543.9,697V737.2L544.4,716.9V695L544.9,693.9V733.9L545.4,725.6V695.8L545.9,694.6V721.9L546.4,722.6V696.1L546.9,696V728.3L547.4,723.7V696.2L547.9,696.2V723.2L548.4,737.9V695.6L548.9,696.2V746.1L549.4,726.5V697L549.9,695.2V725.8L550.4,725.3V696.2L550.9,696V719.6L551.4,726.7V696.5L551.9,697.1V716.6L552.4,724.5V695.3L552.9,696V721.1L553.4,720.6V693.9L553.9,697.3V735.8L554.4,723.8V694.6L554.9,697.3V732.8L555.4,727.8V696.6L555.9,697.4V724.8L556.4,728.4V695.8L556.9,696.2V713.6L557.4,728.2V696.2L557.9,693.9V727.8L558.4,723.7V695.6L558.9,693.9V729.9L559.4,716.1V694.2L559.9,696.2V715.2L560.4,723.2V695.4L560.9,696.6V719.3L561.4,726.5V696.2L561.9,695.3V726.2L562.4,727.4V695.7L562.9,697V718.2L563.4,720.1V697L563.9,695V744.3L564.4,732V695.3L564.9,695.4V725.1L565.4,724.1V696.5L565.9,694.9V725.3L566.4,727.2V695.7L566.9,696.8V737.4L567.4,731.3V696.7L567.9,695.5V717L568.4,722.2V694L568.9,695.6V726.9L569.4,728.6V696.4L569.9,695.2V737.8L570.4,732.7V696.6L570.9,695.5V718.8L571.4,726.5V696.1L571.9,697.3V723.5L572.4,731.1V695.9L572.9,695.9V720.3L573.4,733.2V694.1L573.9,695.3V729.4L574.4,745V696.4L574.9,695.5V741.3L575.4,731.1V696.5L575.9,695.5V723.3L576.4,720.1V695.7L576.9,695.6V731.6L577.4,730.4V696.8L577.9,695.3V732L578.4,723.5V695.8L578.9,695.2V715.1L579.4,724.3V697.3L579.9,695.2V745.4L580.4,721.2V694.1L580.9,695.7V729.8L581.4,739.6V696.9L581.9,694.1V720.6L582.4,736.5V695.8L582.9,696.5V733.3L583.4,716.2V695.6L583.9,694.6V719.3L584.4,727.5V697L584.9,695.8V748.8L585.4,730.9V695.6L585.9,694.1V723.4L586.4,726.4V697.4L586.9,696V733.8L587.4,730V695.3L587.9,695.6V719.5L588.4,731.4V694.6L588.9,695.6V731.7L589.4,734.8V695.7L589.9,695.7V721.3L590.4,719.6V696.9L590.9,694.7V724L591.4,734.8V696L591.9,697.6V729.9L592.4,728.7V694.9L592.9,695.5V729.8L593.4,727.5V695.6L593.9,697.3V727.9L594.4,722.1V695.4L594.9,696.5V735.9L595.4,732.7V695L595.9,696.9V720.2L596.4,731.2V696.5L596.9,697.1V723.9L597.4,724.2V697.6L597.9,696.5V724.3L598.4,717.1V695.5L598.9,696.3V728.2L599.4,739.8V696.6L599.9,694.2V735.5L600.4,716.8V695.4L600.9,694.2V724.5L601.4,728.8V696.6L601.9,696.9V726.4L602.4,730.1V694.2L602.9,697.3V722.1L603.4,733.7V695.2L603.9,694.2V723.1L604.4,720.8V695.4L604.9,695.9V729.2L605.4,715.3V696.4L605.9,696.6V727.7L606.4,714.3V697.3L606.9,696.3V727.3L607.4,725.4V696L607.9,696.7V720.5L608.4,721.7V694.1L608.9,694.1V736.7L609.4,728.3V696.5L609.9,695.7V725.8L610.4,727.1V694.5L610.9,695.8V724.8L611.4,759.1V696.3L611.9,694.7V721L612.4,730.4V695.9L612.9,695.6V724.4L613.4,721.5V695.1L613.9,696.5V732.5L614.4,722.5V695.4L614.9,696.5V720.9L615.4,732.2V695.5L615.9,696.5V723.3L616.4,723.8V694.9L616.9,696.3V715.8L617.4,719.7V694L617.9,696.7V726.4L618.4,721.9V695.2L618.9,694.5V748.8L619.4,730.4V694.4L619.9,695.8V730.1L620.4,731.2V695.7L620.9,696.3V725.4L621.4,724.6V694.5L621.9,695V741.4L622.4,745.1V695.8L622.9,695.8V727.9L623.4,752.2V693.9L623.9,695.6V727.8L624.4,739.7V696.9L624.9,696.8V745.3L625.4,726.3V694.9L625.9,695.7V729.9L626.4,727.5V695.6L626.9,695.9V719.7L627.4,750V697.3L627.9,694.7V721.6L628.4,720.9V696L628.9,695.8V737L629.4,724V695.9L629.9,696.7V732.8L630.3,731.5V693.8L630.9,693.8V729.8L631.4,723.9V697.4L631.9,697V749.1L632.4,726V696L632.9,693.8V728.1L633.3,721.3V695.7L633.9,693.8V721.8L634.4,720.3V696L634.9,695.6V748.2L635.4,724.8V694.5L635.8,695.2V745.6L636.3,717.4V676L636.9,667.8V736.8L637.4,717.5V695.3L637.9,695.8V720.2L638.4,731.3V696.3L638.8,696.3V727L639.4,723.6V694.8L639.9,696.3V726.1L640.4,720.4V696.3L640.9,696.1V740.9L641.4,723.9V693.7L641.8,693.6V733.9L642.4,726.1V695.6L642.9,696.2V720.6L643.4,719.5V695.7L643.9,694V733.4L644.4,721.6V695.3L644.8,693.8V737.3L645.4,719.3V694L645.9,694.4V726.8L646.4,731.4V693.9L646.9,695.4V723L647.4,741.7V696.3L647.8,694.5V719.2L648.4,717.2V693.6L648.9,695V715.1L649.4,726.9V696.1L649.9,693.5V729.7L650.4,717V693.5L650.8,693.5V717.5L651.4,717.4V694.9L651.9,693.5V717.5L652.4,722.6V696.1L652.9,695.2V750.4L653.3,721V693.5L653.8,693.5V716.7L654.4,731.1V694.4L654.9,695.1V729.7L655.4,729.1V695L655.9,695.6V720.5L656.3,723V696L656.9,693.7V740.3L657.4,724.2V695.1L657.9,695.7V727.9L658.4,720.6V695.7L658.9,696.1V723L659.3,727.6V696.1L659.9,694.8V732.2L660.4,737.1V695.8L660.9,695.7V721.4L661.4,722.8V694L661.9,696.4V728.6L662.3,718.9V693.4L662.9,695.5V736.4L663.4,718.8V694.1L663.9,694.1V731.4L664.4,721.7V694.7L664.9,696.5V729L665.3,734.4V694.8L665.9,695.3V728.2L666.4,720.7V695.7L666.9,695.1V721.9L667.4,721.2V694.7L667.8,695.5V728.8L668.3,719.7V695.4L668.9,695.9V736.8L669.4,731.7V696L669.9,694.8V717.2L670.4,724.1V693.3L670.8,696.2V720.8L671.4,723.1V694.7L671.9,694.9V730L672.4,728.5V694.4L672.9,695.6V721.5L673.4,725.2V695.7L673.8,695.6V720.9L674.4,718.7V693.9L674.9,693.8V725.4L675.4,719.5V694L675.9,695.6V723.8L676.4,714.9V695.4L676.8,695.6V724.8L677.4,714.2V694.5L677.9,695.7V723.8L678.4,748.8V694.3L678.9,694.1V719.4L679.4,718.6V695L679.8,695.9V726.8L680.4,734.2V695.6L680.9,694.9V745.3L681.4,717.3V694.3L681.9,695.8V731.3L682.3,719.1V694.6L682.8,693.3V725.1L683.4,725.7V694.3L683.9,693.4V716.5L684.4,724.3V693.1L684.9,695.5V738.1L685.3,719.9V695.7L685.9,693.3V736.9L686.4,724V695.2L686.9,696V720L687.4,725.2V694.6L687.9,695V718.2L688.3,735.2V695.7L688.9,693.1V728L689.4,718.1V695L689.9,693V719.5L690.4,724.2V695.5L690.9,696.2V728.2L691.3,733.4V693.2L691.9,695.4V719.2L692.4,730V693L692.9,694.9V721.5L693.4,726.3V694.3L693.9,695.9V723L694.3,732.4V695.5L694.9,694.4V723.6L695.4,719.2V693L695.9,693.8V726.1L696.4,724.2V693.1L696.9,694V730.6L697.3,717.4V693L697.9,695.5V720.7L698.4,732.6V695.8L698.9,695.5V715.5L699.4,718V694.6L699.8,695.1V722.8L700.3,717.6V696.2L700.9,695.8V718.4L701.4,720.4V695.3L701.9,695.2V718.8L702.4,739.2V695.2L702.8,694.6V730.7L703.4,721.3V694.4L703.9,693.5V720.1L704.4,732.5V695.1L704.9,692.9V725.3L705.4,727.8V695.1L705.8,695V718.4L706.4,726V695L706.9,693.9V721.3L707.4,722.1V694L707.9,694.9V728.1L708.4,713.9V695.1L708.8,695.9V719.5L709.4,729V695.3L709.9,695.9V726.6L710.4,732.3V695.1L710.9,695.5V717.2L711.4,731.6V694.3L711.8,693.9V714.8L712.4,727.7V694.7L712.9,694.7V722.7L713.4,727.5V695.1L713.9,692.8V721.5L714.4,721.2V692.8L714.9,694.3V717.5L715.4,724.8V693.4L715.9,695V728.9L716.4,721.8V694.4L716.9,695V743.2L717.4,722.8V692.8L717.9,694.3V748.2L718.4,718.5V693L718.9,694.3V718.7L719.4,721V695.8L719.9,695.1V723.5L720.4,747.2V694.4L720.9,692.8V731.8L721.4,718.1V694.2L721.9,695V743.6L722.4,728.5V694.1L722.9,694.2V739.1L723.4,724V692.7L723.9,694.3V722.7L724.4,735.6V696.3L724.9,692.7V736.8L725.4,728.8V695.5L725.9,694.9V752.9L726.4,726.5V692.7L726.9,694.1V730L727.4,738.5V694L727.9,694.7V720.2L728.4,717.1V694.8L728.9,695V728.1L729.4,716.6V693.7L729.9,694.9V731.8L730.4,725.1V695.5L730.9,695.2V724L731.4,715V695.4L731.9,692.8V729.4L732.4,718.9V695.1L732.9,695.2V729.6L733.4,730.6V694L733.9,695V755.7L734.4,730V693.4L734.9,693.9V738.4L735.4,718.2V694.2L735.9,694.5V748.6L736.4,719V694.8L736.9,694.6V723.4L737.4,734.1V693.8L737.9,695.7V726.9L738.4,724.2V695.1L738.9,693.8V722.2L739.4,726.4V693.8L739.9,694.2V731.8L740.4,730.6V694.9L740.9,695V725L741.4,723.6V694.2L741.9,694.9V717.3L742.4,733.8V693.6L742.9,693.4V728.8L743.4,725V693.6L743.9,693.9V720.7L744.4,727.1V692.6L744.9,694.1V725.6L745.4,714.3V694.8L745.9,694.9V747.8L746.4,736.3V695.3L746.9,693.9V730.6L747.4,722.1V693.3L747.9,693.9V730.7L748.4,727V695.1L748.9,693.5V722.3L749.4,724.7V693.4L749.9,694.4V727.8L750.4,717.5V694L750.9,695.2V725.5L751.4,739.4V693.8L751.9,695.6V720L752.4,717.6V694.4L752.9,693V731L753.4,724.2V693.7L753.9,694.3V737.6L754.4,728.4V692.2L754.9,693.6V713.1L755.4,726V692.1L755.9,694V726.7L756.4,730.4V693.5L756.9,693.5V732.2L757.4,736.6V695.2L757.9,694.8V748.4L758.4,719.8V694.9L758.9,694.6V722.7L759.4,744.7V692L759.9,693.4V735.8L760.4,715.1V693.2L760.9,691.9V720L761.4,732.1V694.6L761.9,693V713.8L762.4,723V693.7L762.9,694.1V726.4L763.4,734.8V693L763.9,692.7V738L764.4,728.6V693.5L764.9,693.2V732.9L765.4,726V692.4L765.9,694V724.2L766.4,726.8V692.5L766.9,693.7V728.6L767.4,718.4V691.8L767.9,693V752.9L768.4,715.5V693.3L768.9,691.7V728.4L769.4,728.5V693.6L769.9,694.3V721.2L770.4,733.4V693.5L770.9,693.9V715.1L771.4,729.1V691.7L771.9,694.4V719L772.4,725.7V693.2L772.9,693.4V720.3L773.4,728.7V694.5L773.9,692.9V721.6L774.4,729.3V693.3L774.9,693.6V722.8L775.4,727.9V691.6L775.9,694.5V745.7L776.4,716.7V693.1L776.9,693.9V744.7L777.4,743.8V693.4L777.9,693.7V716.9L778.4,719.1V692.8L778.9,691.8V736.6L779.4,729.8V694.5L779.9,693.4V724.5L780.4,736.1V692.6L780.9,693.8V726.2L781.4,715.7V693.7L781.9,691.4V721.2L782.4,723.5V694.3L782.9,693V734.1L783.4,723.9V692.7L783.9,692.8V717.2L784.4,717.9V694.5L784.9,691.3V722.2L785.4,722V694.7L785.9,694.6V721.5L786.4,746.1V693.1L786.9,694.4V739.6L787.4,722V693.6L787.9,692.2V724.2L788.4,719.4V693L788.9,692.9V729L789.4,723.5V691.3L789.9,694.2V725.4L790.4,721.2V691.2L790.9,692.7V737.8L791.4,725.5V692.5L791.9,694.7V719.9L792.4,748.8V691.6L792.9,693.3V727.7L793.4,727.5V693.3L793.9,692.6V726L794.4,722V693.3L794.9,691.1V725.2L795.4,721V691.1L795.9,693.3V724.4L796.4,728.6V693.6L796.9,693.2V719.1L797.4,725.5V691L797.9,693.4V730.8L798.4,728V692.9L798.9,693.7V717.6L799.4,716.6V692.9L799.9,691V722.9L800.4,730.1V693.1L800.9,694.5V725.9L801.4,718.7V692.5L801.9,691.9V729.9L802.4,729.4V693.2L802.9,693.9V728.2L803.4,726.4V693.1L803.9,691.8V733.3L804.4,730V692.9L804.9,694.3V752.9L805.4,724.9V692.2L805.9,693.3V731.8L806.4,730.6V692.6L806.9,692.9V728.4L807.4,726V693.5L807.9,693V726.8L808.4,724V693.3L808.9,692.6V738.5L809.4,744.7V693.6L809.9,690.8V728L810.4,725.6V691.5L810.9,692V714.8L811.4,743.7V693.3L811.9,690.7V719.2L812.4,732.6V690.7L812.9,693.6V724L813.4,720.5V693.2L813.9,693.5V720.6L814.4,730.6V693.1L814.9,691.6V719.8L815.4,738.9V690.7L815.9,692.5V727L816.4,716V692.7L816.9,691.8V720.7L817.4,726.2V691.2L817.9,692.5V730.7L818.4,726.2V692.5L818.9,692.7V746.1L819.4,715.9V692.6L819.9,692.6V731L820.4,719.8V693.5L820.9,690.6V719.7L821.4,728.9V692.4L821.9,691.9V719.3L822.4,715.5V692.6L822.9,691.5V725.3L823.4,727.5V693.1L823.9,691.1V725.3L824.4,723.9V690.5L824.9,693.4V723.3L825.4,724.5V692.5L825.9,693.7V719.1L826.4,727.8V691.5L826.9,692.3V713.6L827.4,724.4V693.8L827.9,690.6V736.5L828.4,731V690.4L828.9,692.9V723.9L829.4,719.7V691.6L829.9,693.5V731.1L830.4,715.8V691.9L830.9,692.7V734.9L831.4,715.5V693.8L831.9,692.8V731.4L832.4,723.2V692.2L832.9,693.7V720.9L833.4,731.1V690.8L833.9,692.4V726.4L834.4,735V692.2L834.9,690.3V718.9L835.4,724.6V690.3L835.9,691.5V721.9L836.4,724.5V691.5L836.9,691V717.1L837.4,723.4V691.8L837.9,691.9V725.6L838.4,720.5V690.7L838.9,693.1V722.4L839.4,725V690.2L839.9,692.7V737.2L840.4,714.3V692.8L840.9,691.8V736L841.4,726.1V692L841.9,692V720.1L842.4,730.2V690.7L842.9,693.9V727.9L843.4,732.8V693L843.9,692.8V734.1L844.4,722.6V691.9L844.9,692.4V729.1L845.4,736.2V691.6L845.9,692.2V717.2L846.4,749.5V693.5L846.9,691V724.9L847.4,722.9V692L847.9,692.3V722.5L848.4,727V692.5L848.9,690.6V723.5L849.4,719.5V691.6L849.9,693V724.3L850.4,728.4V692.2L850.9,690V729.9L851.4,727.9V692.5L851.9,692.9V725.1L852.4,718.5V693.1L852.9,693.1V723.5L853.4,721.1V693.3L853.9,692V723.1L854.4,728V690.1L854.9,690V715.8L855.4,736.8V690.1L855.9,692.1V726.7L856.4,728.1V691.3L856.9,693.1V730.1L857.4,740.3V691L857.9,692.4V726L858.4,714.2V691.4L858.9,692.3V721.3L859.4,733V691.8L859.9,691.9V718.7L860.4,720.1V691.5L860.9,692.2V717.9L861.4,730.2V692.5L861.9,691.6V719.5L862.4,743.8V690.9L862.9,692V728.3L863.4,725.7V689.8L863.9,691.9V726.9L864.4,723.7V692L864.9,692V722.2L865.4,728.8V689.8L865.9,692.2V736.9L866.4,741.2V691.3L866.9,691.6V726.3L867.4,717.3V689.8L867.9,693V722.9L868.4,726.4V689.7L868.9,692V719.6L869.4,715.7V690.6L869.9,692.4V714.1L870.4,733.2V691L870.9,692V731.6L871.4,732.1V692.4L871.9,692.4V716.6L872.4,718.5V692.4L872.9,689.8V724.6L873.4,722.8V691.7L873.9,692.1V725.4L874.4,719.9V690.5L874.9,691.5V722.4L875.4,750.2V691.1L875.9,692.1V733.5L876.4,724.1V692.4L876.9,692.5V741.4L877.4,724.1V692L877.9,691.8V727.7L878.4,723.9V691.2L878.9,691.9V729.2L879.4,725V691.9L879.9,692.4V718.4L880.4,735V691.9L880.9,691.5V735.9"/>
</g>
<path d="M201.8,769.4v4.8M335.6,769.4v4.8M469.6,769.4v4.8M602.9,769.4v4.8M737.3,769.4v4.8M870.8,769.4v4.8M154.5,613.6h-4.3M154.5,654.6h-4.3M154.5,695.6h-4.3M154.5,737.5h-4.3" stroke="#1c1c1c" stroke-width="1.07" fill="none"/>
<rect x="154.5" y="577.2" width="762.9" height="192.2" fill="none" stroke="#1c1c1c" stroke-width="1.07"/>
<text transform="translate(201.35,793.84) scale(1,1.08)" text-anchor="middle" font-size="19.6">0</text>
<text transform="translate(335.1,793.84) scale(1,1.08)" text-anchor="middle" font-size="19.6">20</text>
<text transform="translate(469.1,793.84) scale(1,1.08)" text-anchor="middle" font-size="19.6">40</text>
<text transform="translate(602.4,793.84) scale(1,1.08)" text-anchor="middle" font-size="19.6">60</text>
<text transform="translate(736.8,793.84) scale(1,1.08)" text-anchor="middle" font-size="19.6">80</text>
<text transform="translate(870.3,793.84) scale(1,1.08)" text-anchor="middle" font-size="19.6">100</text>
<text transform="translate(145,620.96) scale(1,0.995)" text-anchor="end" font-size="19.9">10<tspan font-size="14.4" dx="-1" dy="-7.8">8</tspan></text>
<text transform="translate(145,661.94) scale(1,0.995)" text-anchor="end" font-size="19.9">10<tspan font-size="14.4" dx="-1" dy="-7.8">5</tspan></text>
<text transform="translate(145,702.92) scale(1,0.995)" text-anchor="end" font-size="19.9">10<tspan font-size="14.4" dx="-1" dy="-7.8">2</tspan></text>
<text transform="translate(145,743.9) scale(1,0.995)" text-anchor="end" font-size="19.9">10<tspan font-size="14.4" dx="-1" dy="-7.8">−1</tspan></text>
<text transform="translate(162.5,605.05)" font-size="29.5">g)</text>
</g>
<g id="panel-h">
<clipPath id="c21"><rect x="998.6" y="577.2" width="200.4" height="192.2"/></clipPath>
<path d="M998.6,577.2V769.4M1098.8,577.2V769.4M1199,577.2V769.4M998.6,613.6H1199M998.6,654.6H1199M998.6,695.6H1199M998.6,737.5H1199" stroke="#b0b0b0" stroke-width="1.15" fill="none"/>
<g clip-path="url(#c21)" fill="none" stroke="#2ca02c" stroke-width="2.25" stroke-linejoin="round" stroke-linecap="butt">
<path d="M997.6,708.5 997.9,726.2 998.2,703.8 998.6,717.7 998.9,706 999.2,717.4 999.5,700.4 999.9,712.4 1000.2,702.6 1000.5,712.7 1000.8,700.4 1001.2,712 1001.5,703.4 1001.8,709.6 1002.1,704.2 1002.4,712.1 1002.8,706.3 1003.1,727.8 1003.4,750 1003.7,731.4 1004.1,710.3 1004.4,714.2 1004.7,706 1005,707.9 1005.4,697.8 1005.7,693.2 1006,698 1006.3,707 1006.7,700.4 1007,707.2 1007.3,701 1007.6,709.2 1007.9,701.6 1008.3,710.6 1008.6,701.9 1008.9,713.8 1009.2,716.7 1009.6,711.1 1009.9,704.4 1010.2,710.3 1010.5,701.9 1010.9,709.1 1011.2,699.1 1011.5,710.7 1011.8,703.2 1012.1,716.6 1012.5,724.4 1012.8,714.3 1013.1,703.1 1013.4,712.1 1013.8,700.4 1014.1,708.1 1014.4,701.1 1014.7,710.3 1015.1,700.8 1015.4,711.1 1015.7,701.5 1016,712.3 1016.4,704.5 1016.7,711.8 1017,698 1017.3,712.3 1017.6,697.8 1018,714.2 1018.3,697.9 1018.6,710.5 1018.9,700.1 1019.3,714.3 1019.6,702.4 1019.9,712.4 1020.2,700.5 1020.6,715.3 1020.9,701 1021.2,715 1021.5,700.1 1021.8,715.6 1022.2,699.1 1022.5,714.9 1022.8,700.2 1023.1,711.9 1023.5,702.2 1023.8,709.8 1024.1,699.9 1024.4,709.8 1024.8,700.9 1025.1,711.5 1025.4,700.4 1025.7,714.9 1026.1,700.5 1026.4,717.8 1026.7,703.4 1027,714.6 1027.3,702.8 1027.7,713 1028,704.9 1028.3,714.4 1028.6,703.4 1029,709 1029.3,699.9 1029.6,708.6 1029.9,696.9 1030.3,707.7 1030.6,697.1 1030.9,705.7 1031.2,699.5 1031.5,706 1031.9,700.1 1032.2,706.2 1032.5,698.6 1032.8,713.4 1033.2,698.5 1033.5,713.2 1033.8,698.3 1034.1,708.7 1034.5,698 1034.8,713.5 1035.1,696.2 1035.4,713.2 1035.8,699.3 1036.1,713.5 1036.4,700.6 1036.7,714.3 1037,697.1 1037.4,709.2 1037.7,699.5 1038,712.5 1038.3,700.5 1038.7,708.7 1039,698.5 1039.3,713.3 1039.6,699.5 1040,710.3 1040.3,700.3 1040.6,710.6 1040.9,697.8 1041.2,703.3 1041.6,699.6 1041.9,705.9 1042.2,700.5 1042.5,706.5 1042.9,700.6 1043.2,709.4 1043.5,698.7 1043.8,715.5 1044.2,693.2 1044.5,709 1044.8,699.7 1045.1,707 1045.5,700.5 1045.8,707.7 1046.1,702.9 1046.4,708.8 1046.7,704.2 1047.1,710.3 1047.4,700.1 1047.7,710.4 1048,700.7 1048.4,707.9 1048.7,700.9 1049,710.3 1049.3,699.5 1049.7,710.4 1050,700.7 1050.3,711.1 1050.6,699.1 1050.9,733.4 1051.3,702.5 1051.6,726.1 1051.9,708.2 1052.2,724.5 1052.6,702.2 1052.9,718.1 1053.2,699.9 1053.5,726 1053.9,697.6 1054.2,725.9 1054.5,702.3 1054.8,719.7 1055.2,701.7 1055.5,711.6 1055.8,699.5 1056.1,704.7 1056.4,701.2 1056.8,708.3 1057.1,701.6 1057.4,713.2 1057.7,703.5 1058.1,710.4 1058.4,706.1 1058.7,712 1059,702.9 1059.4,708.9 1059.7,700.2 1060,711.1 1060.3,698.5 1060.6,708.8 1061,698 1061.3,708.8 1061.6,701.2 1061.9,707.5 1062.3,698.3 1062.6,705 1062.9,696.5 1063.2,702.5 1063.6,693.2 1063.9,708.5 1064.2,702.3 1064.5,708.8 1064.9,704 1065.2,708.6 1065.5,705.4 1065.8,718.7 1066.1,699.2 1066.5,706.3 1066.8,697.5 1067.1,706.6 1067.4,696.2 1067.8,707.1 1068.1,698.2 1068.4,707.9 1068.7,697.5 1069.1,705.4 1069.4,697.8 1069.7,708.4 1070,700 1070.3,705.5 1070.7,699.2 1071,703.3 1071.3,700.9 1071.6,704.8 1072,698.8 1072.3,705.4 1072.6,698.9 1072.9,703.6 1073.3,700.9 1073.6,707.1 1073.9,701.8 1074.2,707.3 1074.6,700 1074.9,712.4 1075.2,704.1 1075.5,710.6 1075.8,700.1 1076.2,712.3 1076.5,702.9 1076.8,711.3 1077.1,704.9 1077.5,712.5 1077.8,719.6 1078.1,709.8 1078.4,699.4 1078.8,714.6 1079.1,692.8 1079.4,711.8 1079.7,702.6 1080,713.8 1080.4,707.5 1080.7,714.8 1081,705.5 1081.3,715.1 1081.7,707.4 1082,713.7 1082.3,703.3 1082.6,711.6 1083,698.7 1083.3,716.6 1083.6,699.7 1083.9,710.5 1084.3,703.5 1084.6,716.4 1084.9,700.7 1085.2,716 1085.5,702.8 1085.9,714.3 1086.2,701.2 1086.5,714.1 1086.8,704.2 1087.2,723.9 1087.5,730.1 1087.8,722 1088.1,702.8 1088.5,711.8 1088.8,700.3 1089.1,707.8 1089.4,703.1 1089.7,709.4 1090.1,699.2 1090.4,713.1 1090.7,701.4 1091,721.6 1091.4,702.1 1091.7,713 1092,703.7 1092.3,712.2 1092.7,703.3 1093,715.9 1093.3,705 1093.6,715.7 1094,702 1094.3,719.9 1094.6,699.6 1094.9,722.2 1095.2,698 1095.6,718.6 1095.9,697 1096.2,713.4 1096.5,697.3 1096.9,717.1 1097.2,700.6 1097.5,710.5 1097.8,692.3 1098.2,702.9 1098.5,691.2 1098.8,704.6 1099.1,690 1099.4,703.2 1099.8,691.1 1100.1,705.6 1100.4,689.9 1100.7,709.7 1101.1,691.9 1101.4,711.3 1101.7,698.7 1102,708.6 1102.4,697.9 1102.7,711.2 1103,697.4 1103.3,711.8 1103.6,698.4 1104,709.6 1104.3,701.2 1104.6,715.5 1104.9,702.9 1105.3,715.6 1105.6,701.1 1105.9,710.7 1106.2,704.7 1106.6,715.5 1106.9,705.1 1107.2,712.5 1107.5,705.4 1107.9,716.6 1108.2,700.3 1108.5,713.3 1108.8,699.5 1109.1,718.8 1109.5,699.1 1109.8,717.7 1110.1,700 1110.4,719.8 1110.8,699.1 1111.1,716.4 1111.4,703.5 1111.7,711.9 1112.1,706.6 1112.4,710.9 1112.7,702.4 1113,711.6 1113.3,704.7 1113.7,706.7 1114,704 1114.3,705 1114.6,703 1115,707 1115.3,702.3 1115.6,704.9 1115.9,702 1116.3,705.7 1116.6,700.7 1116.9,707.3 1117.2,698.5 1117.6,704.2 1117.9,697.9 1118.2,704.7 1118.5,698.7 1118.8,707.9 1119.2,700.2 1119.5,708.4 1119.8,701.7 1120.1,711.1 1120.5,701.5 1120.8,714.3 1121.1,707.7 1121.4,714.4 1121.8,702.5 1122.1,716.5 1122.4,702.1 1122.7,714.1 1123,699.9 1123.4,717 1123.7,703.2 1124,711.3 1124.3,696.2 1124.7,704.6 1125,695.9 1125.3,702.7 1125.6,698 1126,706.1 1126.3,701.2 1126.6,707.5 1126.9,699.8 1127.3,711.3 1127.6,701 1127.9,709.5 1128.2,702.4 1128.5,706.8 1128.9,702.8 1129.2,706.5 1129.5,697.5 1129.8,711.5 1130.2,695.2 1130.5,710.9 1130.8,695.6 1131.1,714.1 1131.5,717.8 1131.8,710.8 1132.1,699.2 1132.4,709.5 1132.7,698.5 1133.1,705.4 1133.4,698.8 1133.7,706.4 1134,700.1 1134.4,710.3 1134.7,704 1135,713.7 1135.3,723.5 1135.7,716 1136,701.8 1136.3,712.2 1136.6,702.5 1137,709.4 1137.3,701.2 1137.6,706 1137.9,698.7 1138.2,708.3 1138.6,696.9 1138.9,706.2 1139.2,696.1 1139.5,708 1139.9,697.4 1140.2,708.4 1140.5,696.2 1140.8,716.2 1141.2,721.9 1141.5,715.2 1141.8,698.6 1142.1,711.6 1142.4,701.9 1142.8,711.4 1143.1,700.5 1143.4,711.3 1143.7,697.3 1144.1,709.5 1144.4,701.7 1144.7,716.6 1145,699.2 1145.4,705.9 1145.7,702.3 1146,706.3 1146.3,703.2 1146.7,708.6 1147,701.5 1147.3,711.7 1147.6,703.1 1147.9,727.5 1148.3,704.5 1148.6,720.7 1148.9,702.1 1149.2,720.3 1149.6,701.1 1149.9,710.9 1150.2,698.9 1150.5,716.6 1150.9,703.2 1151.2,714.6 1151.5,695.3 1151.8,712.7 1152.1,695.2 1152.5,709 1152.8,696.3 1153.1,714.6 1153.4,717.4 1153.8,712.2 1154.1,700 1154.4,704.5 1154.7,696.6 1155.1,708 1155.4,700.7 1155.7,705 1156,699.3 1156.4,705.7 1156.7,699.2 1157,704.8 1157.3,699.8 1157.6,703.5 1158,701.1 1158.3,709.1 1158.6,701.4 1158.9,713.8 1159.3,701 1159.6,717.1 1159.9,702.8 1160.2,717.8 1160.6,706.7 1160.9,718.9 1161.2,699.3 1161.5,717.4 1161.8,699.8 1162.2,713.8 1162.5,700.4 1162.8,711 1163.1,700.3 1163.5,706.8 1163.8,702.5 1164.1,706.4 1164.4,697.4 1164.8,711.8 1165.1,699.1 1165.4,708.7 1165.7,701.1 1166.1,712.7 1166.4,699.8 1166.7,713.9 1167,703.3 1167.3,712.6 1167.7,697.5 1168,717.5 1168.3,707.2 1168.6,747 1169,758.5 1169.3,734.9 1169.6,696.1 1169.9,711.7 1170.3,696.6 1170.6,711.7 1170.9,703.2 1171.2,711.9 1171.5,699.1 1171.9,706.7 1172.2,702.5 1172.5,708 1172.8,700.4 1173.2,707.7 1173.5,702.2 1173.8,708.4 1174.1,702.6 1174.5,708.2 1174.8,700.9 1175.1,707 1175.4,699.4 1175.8,709.4 1176.1,700.5 1176.4,707.3 1176.7,700.3 1177,708.8 1177.4,699.8 1177.7,706.1 1178,698.5 1178.3,708.9 1178.7,700.4 1179,709.3 1179.3,699.7 1179.6,707 1180,700.5 1180.3,708.1 1180.6,699.7 1180.9,705.9 1181.2,699.2 1181.6,704.8 1181.9,701.5 1182.2,707.6 1182.5,699.4 1182.9,710.6 1183.2,701.5 1183.5,710.1 1183.8,701.2 1184.2,711.3 1184.5,704.4 1184.8,710.3 1185.1,704.8 1185.5,709.3 1185.8,704.1 1186.1,708.3 1186.4,704.6 1186.7,706.6 1187.1,703.8 1187.4,705.8 1187.7,704.1 1188,707.3 1188.4,705.3 1188.7,710.1 1189,705.4 1189.3,714.2 1189.7,705.4 1190,713.1 1190.3,705.8 1190.6,711.8 1190.9,703.6 1191.3,709.9 1191.6,702.3 1191.9,710.3 1192.2,704.5 1192.6,713.6 1192.9,702.9 1193.2,710.6 1193.5,699.1 1193.9,707.4 1194.2,702.7 1194.5,711.2 1194.8,699.2 1195.2,710.8 1195.5,699.2 1195.8,713.8 1196.1,702.3 1196.4,712.5 1196.8,702.9 1197.1,714.6 1197.4,702.3 1197.7,716.5 1198.1,704.5 1198.4,723.1 1198.7,706.2 1199,723.6 1199.4,699.1 1199.7,725.3 1200,706.1"/>
</g>
<path d="M998.6,769.4v4.8M1098.8,769.4v4.8M1199,769.4v4.8M998.6,613.6h-4.3M998.6,654.6h-4.3M998.6,695.6h-4.3M998.6,737.5h-4.3" stroke="#1c1c1c" stroke-width="1.07" fill="none"/>
<rect x="998.6" y="577.2" width="200.4" height="192.2" fill="none" stroke="#1c1c1c" stroke-width="1.07"/>
<text transform="translate(998.1,793.84) scale(1,1.08)" text-anchor="middle" font-size="19.6">49.5</text>
<text transform="translate(1098.3,793.84) scale(1,1.08)" text-anchor="middle" font-size="19.6">50.0</text>
<text transform="translate(1198.5,793.84) scale(1,1.08)" text-anchor="middle" font-size="19.6">50.5</text>
<text transform="translate(989.1,620.96) scale(1,0.995)" text-anchor="end" font-size="19.9">10<tspan font-size="14.4" dx="-1" dy="-7.8">8</tspan></text>
<text transform="translate(989.1,661.94) scale(1,0.995)" text-anchor="end" font-size="19.9">10<tspan font-size="14.4" dx="-1" dy="-7.8">5</tspan></text>
<text transform="translate(989.1,702.92) scale(1,0.995)" text-anchor="end" font-size="19.9">10<tspan font-size="14.4" dx="-1" dy="-7.8">2</tspan></text>
<text transform="translate(989.1,743.9) scale(1,0.995)" text-anchor="end" font-size="19.9">10<tspan font-size="14.4" dx="-1" dy="-7.8">−1</tspan></text>
<text transform="translate(1007.6,605.05)" font-size="29.5" letter-spacing="0.5">h)</text>
</g>
<g id="panel-i">
<clipPath id="c22"><rect x="1280" y="577.2" width="200.5" height="192.2"/></clipPath>
<path d="M1280,577.2V769.4M1380.5,577.2V769.4M1480.5,577.2V769.4M1280,613.6H1480.5M1280,654.6H1480.5M1280,695.6H1480.5M1280,737.5H1480.5" stroke="#b0b0b0" stroke-width="1.15" fill="none"/>
<g clip-path="url(#c22)" fill="none" stroke="#2ca02c" stroke-width="2.25" stroke-linejoin="round" stroke-linecap="butt">
<path d="M1278,703.1 1280,703.1 1281.9,716.3 1283.5,705.6 1285.1,699.5 1286.8,710 1288.4,707.2 1290,708 1291.6,703.1 1293,701.5 1294.9,697.9 1296.3,703.9 1297.9,724.6 1299.5,695.4 1301.1,701.5 1302.7,703.1 1304.2,695.8 1305.8,708 1307.4,712.5 1309.1,699.1 1310.7,697.9 1312.3,706 1313.9,707.2 1315.6,708.8 1317.2,700.3 1318.8,704.7 1320.3,702.7 1321.9,708.4 1323.7,702.2 1325.3,707.2 1326.9,714.5 1328.1,714.6 1330,703.1 1331.6,696 1333.2,708.8 1335,710.4 1336.7,710.4 1338.1,704.3 1339.6,714.1 1341.1,702.7 1342.7,708.8 1344.4,702.3 1346,704.7 1347.6,705.6 1349,711.6 1350.8,711.6 1352.5,695.8 1354.1,703 1355.5,699.9 1357.1,711.4 1358.7,700.7 1360.3,703.1 1362.2,705.6 1363.8,701.9 1365.2,711.9 1367.1,696.2 1368.7,697.4 1370.3,697.6 1371.9,699.5 1373.6,703.9 1375.2,711.9 1376.8,705.6 1378.4,695.8 1380.5,688.5 1379.6,690 1381.4,684.3 1383,680.3 1384.5,667.7 1386.1,671.4 1387.6,685.1 1389.4,688.8 1391,698.8 1392.6,697 1394.2,693.6 1395.7,703.1 1397.3,700.3 1398.9,721 1400.7,694.4 1402.3,702.3 1404,704.3 1405.6,705.3 1407.2,697.8 1408.8,697.8 1410.4,699.9 1411.9,706.6 1413.7,703.1 1415.2,697.7 1416.6,710.7 1418.4,705.1 1419.8,711.2 1421.5,696.9 1423.1,717.5 1424.7,716.1 1426.3,703.9 1427.9,708 1429.5,706.4 1431.1,715.5 1432.8,713.3 1434.4,713.7 1436,711.2 1437.6,703.1 1439.2,696.2 1440.9,698.8 1442.5,703.4 1444.1,704.3 1445.5,706.4 1447.1,722.8 1448.7,708.8 1450.2,699.6 1451.8,714.9 1453.4,699.6 1455.2,739.1 1457.1,702.3 1458.3,701.7 1459.9,708 1461.6,708 1463,703.5 1464.6,713.4 1466.3,708 1467.9,713.1 1469.5,705.8 1471.1,721.4 1472.7,699.9 1474.4,728.5 1476.2,704.3 1477.8,703.4 1479.4,706.8 1480.4,707.2 1482.5,707.2"/>
</g>
<path d="M1280,769.4v4.8M1380.5,769.4v4.8M1480.5,769.4v4.8M1280,613.6h-4.3M1280,654.6h-4.3M1280,695.6h-4.3M1280,737.5h-4.3" stroke="#1c1c1c" stroke-width="1.07" fill="none"/>
<rect x="1280" y="577.2" width="200.5" height="192.2" fill="none" stroke="#1c1c1c" stroke-width="1.07"/>
<text transform="translate(1279.5,793.84) scale(1,1.08)" text-anchor="middle" font-size="19.6">65.0</text>
<text transform="translate(1380,793.84) scale(1,1.08)" text-anchor="middle" font-size="19.6">65.1</text>
<text transform="translate(1480,793.84) scale(1,1.08)" text-anchor="middle" font-size="19.6">65.2</text>
<text transform="translate(1270.5,620.96) scale(1,0.995)" text-anchor="end" font-size="19.9">10<tspan font-size="14.4" dx="-1" dy="-7.8">8</tspan></text>
<text transform="translate(1270.5,661.94) scale(1,0.995)" text-anchor="end" font-size="19.9">10<tspan font-size="14.4" dx="-1" dy="-7.8">5</tspan></text>
<text transform="translate(1270.5,702.92) scale(1,0.995)" text-anchor="end" font-size="19.9">10<tspan font-size="14.4" dx="-1" dy="-7.8">2</tspan></text>
<text transform="translate(1270.5,743.9) scale(1,0.995)" text-anchor="end" font-size="19.9">10<tspan font-size="14.4" dx="-1" dy="-7.8">−1</tspan></text>
<text transform="translate(1289,605.05)" font-size="29.5" letter-spacing="0.5">i)</text>
</g>
</g>
</svg></body></html>
